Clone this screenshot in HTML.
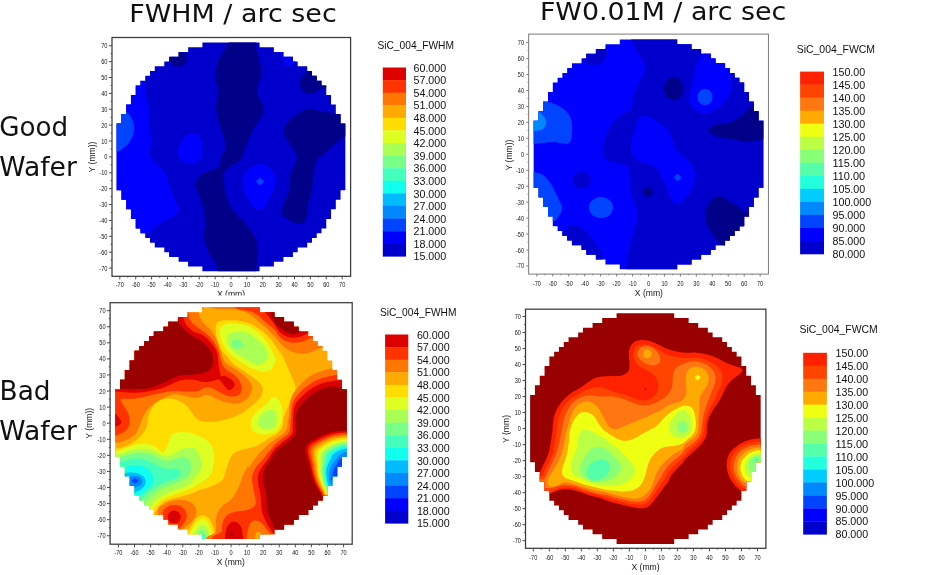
<!DOCTYPE html>
<html><head><meta charset="utf-8"><title>Wafer maps</title>
<style>html,body{margin:0;padding:0;background:#fff}body{width:950px;height:575px;overflow:hidden}</style></head>
<body>
<svg width="950" height="575" viewBox="0 0 950 575" style="display:block">
<rect width="950" height="575" fill="#fff"/>
<defs>
<clipPath id="w1"><path d="M202.42 266.42H259.58V271.29H202.42ZM188.12 261.66H273.88V266.52H188.12ZM178.60 256.89H283.40V261.76H178.60ZM169.07 252.13H292.93V256.99H169.07ZM164.30 247.37H297.70V252.23H164.30ZM154.78 242.60H307.22V247.47H154.78ZM150.01 237.84H311.99V242.70H150.01ZM145.25 233.07H316.75V237.94H145.25ZM140.48 228.31H321.52V233.17H140.48ZM135.72 223.55H326.28V228.41H135.72ZM135.72 218.78H326.28V223.65H135.72ZM130.96 214.02H331.04V218.88H130.96ZM130.96 209.25H331.04V214.12H130.96ZM126.19 204.49H335.81V209.35H126.19ZM126.19 199.73H335.81V204.59H126.19ZM121.43 194.96H340.57V199.83H121.43ZM121.43 190.20H340.57V195.06H121.43ZM116.66 185.43H345.34V190.30H116.66ZM116.66 180.67H345.34V185.53H116.66ZM116.66 175.91H345.34V180.77H116.66ZM116.66 171.14H345.34V176.01H116.66ZM116.66 166.38H345.34V171.24H116.66ZM116.66 161.61H345.34V166.48H116.66ZM116.66 156.85H345.34V161.71H116.66ZM116.66 152.09H345.34V156.95H116.66ZM116.66 147.32H345.34V152.19H116.66ZM116.66 142.56H345.34V147.42H116.66ZM116.66 137.79H345.34V142.66H116.66ZM116.66 133.03H345.34V137.89H116.66ZM116.66 128.27H345.34V133.13H116.66ZM116.66 123.50H345.34V128.37H116.66ZM121.43 118.74H340.57V123.60H121.43ZM121.43 113.97H340.57V118.84H121.43ZM126.19 109.21H335.81V114.07H126.19ZM126.19 104.45H335.81V109.31H126.19ZM130.96 99.68H331.04V104.55H130.96ZM130.96 94.92H331.04V99.78H130.96ZM135.72 90.15H326.28V95.02H135.72ZM135.72 85.39H326.28V90.25H135.72ZM140.48 80.63H321.52V85.49H140.48ZM145.25 75.86H316.75V80.73H145.25ZM150.01 71.10H311.99V75.96H150.01ZM154.78 66.33H307.22V71.20H154.78ZM164.30 61.57H297.70V66.43H164.30ZM169.07 56.81H292.93V61.67H169.07ZM178.60 52.04H283.40V56.91H178.60ZM188.12 47.28H273.88V52.14H188.12ZM202.42 42.51H259.58V47.38H202.42Z"/></clipPath>
<clipPath id="w2"><path d="M619.79 264.31H677.21V269.19H619.79ZM605.43 259.52H691.57V264.41H605.43ZM595.87 254.74H701.13V259.62H595.87ZM586.29 249.95H710.71V254.84H586.29ZM581.51 245.16H715.49V250.05H581.51ZM571.94 240.38H725.06V245.27H571.94ZM567.15 235.59H729.85V240.48H567.15ZM562.37 230.81H734.63V235.70H562.37ZM557.59 226.03H739.41V230.91H557.59ZM552.80 221.24H744.20V226.13H552.80ZM552.80 216.45H744.20V221.34H552.80ZM548.01 211.67H748.99V216.56H548.01ZM548.01 206.88H748.99V211.77H548.01ZM543.23 202.10H753.77V206.99H543.23ZM543.23 197.31H753.77V202.20H543.23ZM538.45 192.53H758.55V197.42H538.45ZM538.45 187.75H758.55V192.63H538.45ZM533.66 182.96H763.34V187.85H533.66ZM533.66 178.18H763.34V183.06H533.66ZM533.66 173.39H763.34V178.28H533.66ZM533.66 168.60H763.34V173.49H533.66ZM533.66 163.82H763.34V168.71H533.66ZM533.66 159.03H763.34V163.92H533.66ZM533.66 154.25H763.34V159.14H533.66ZM533.66 149.47H763.34V154.35H533.66ZM533.66 144.68H763.34V149.57H533.66ZM533.66 139.90H763.34V144.78H533.66ZM533.66 135.11H763.34V140.00H533.66ZM533.66 130.32H763.34V135.21H533.66ZM533.66 125.54H763.34V130.43H533.66ZM533.66 120.76H763.34V125.64H533.66ZM538.45 115.97H758.55V120.86H538.45ZM538.45 111.19H758.55V116.07H538.45ZM543.23 106.40H753.77V111.29H543.23ZM543.23 101.62H753.77V106.50H543.23ZM548.01 96.83H748.99V101.72H548.01ZM548.01 92.05H748.99V96.93H548.01ZM552.80 87.26H744.20V92.15H552.80ZM552.80 82.48H744.20V87.36H552.80ZM557.59 77.69H739.41V82.58H557.59ZM562.37 72.91H734.63V77.79H562.37ZM567.15 68.12H729.85V73.01H567.15ZM571.94 63.34H725.06V68.22H571.94ZM581.51 58.55H715.49V63.44H581.51ZM586.29 53.77H710.71V58.65H586.29ZM595.87 48.98H701.13V53.87H595.87ZM605.43 44.20H691.57V49.08H605.43ZM619.79 39.41H677.21V44.30H619.79Z"/></clipPath>
<clipPath id="w3"><path d="M202.06 534.10H259.94V539.03H202.06ZM187.58 529.28H274.42V534.20H187.58ZM177.94 524.45H284.06V529.38H177.94ZM168.29 519.63H293.71V524.55H168.29ZM163.46 514.81H298.54V519.73H163.46ZM153.82 509.98H308.18V514.91H153.82ZM148.99 505.16H313.01V510.08H148.99ZM144.17 500.33H317.83V505.26H144.17ZM139.34 495.51H322.66V500.43H139.34ZM134.52 490.69H327.48V495.61H134.52ZM134.52 485.86H327.48V490.79H134.52ZM129.70 481.04H332.30V485.96H129.70ZM129.70 476.21H332.30V481.14H129.70ZM124.87 471.39H337.13V476.31H124.87ZM124.87 466.57H337.13V471.49H124.87ZM120.05 461.74H341.95V466.67H120.05ZM120.05 456.92H341.95V461.84H120.05ZM115.22 452.09H346.78V457.02H115.22ZM115.22 447.27H346.78V452.19H115.22ZM115.22 442.45H346.78V447.37H115.22ZM115.22 437.62H346.78V442.55H115.22ZM115.22 432.80H346.78V437.72H115.22ZM115.22 427.97H346.78V432.90H115.22ZM115.22 423.15H346.78V428.07H115.22ZM115.22 418.33H346.78V423.25H115.22ZM115.22 413.50H346.78V418.43H115.22ZM115.22 408.68H346.78V413.60H115.22ZM115.22 403.85H346.78V408.78H115.22ZM115.22 399.03H346.78V403.95H115.22ZM115.22 394.21H346.78V399.13H115.22ZM115.22 389.38H346.78V394.31H115.22ZM120.05 384.56H341.95V389.48H120.05ZM120.05 379.73H341.95V384.66H120.05ZM124.87 374.91H337.13V379.83H124.87ZM124.87 370.09H337.13V375.01H124.87ZM129.70 365.26H332.30V370.19H129.70ZM129.70 360.44H332.30V365.36H129.70ZM134.52 355.61H327.48V360.54H134.52ZM134.52 350.79H327.48V355.71H134.52ZM139.34 345.97H322.66V350.89H139.34ZM144.17 341.14H317.83V346.07H144.17ZM148.99 336.32H313.01V341.24H148.99ZM153.82 331.49H308.18V336.42H153.82ZM163.46 326.67H298.54V331.59H163.46ZM168.29 321.85H293.71V326.77H168.29ZM177.94 317.02H284.06V321.95H177.94ZM187.58 312.20H274.42V317.12H187.58ZM202.06 307.37H259.94V312.30H202.06Z"/></clipPath>
<clipPath id="w4"><path d="M616.58 539.02H674.22V543.92H616.58ZM602.17 534.22H688.63V539.12H602.17ZM592.57 529.41H698.23V534.32H592.57ZM582.96 524.61H707.84V529.51H582.96ZM578.16 519.81H712.64V524.71H578.16ZM568.55 515.00H722.25V519.91H568.55ZM563.75 510.20H727.05V515.10H563.75ZM558.95 505.40H731.85V510.30H558.95ZM554.14 500.60H736.66V505.50H554.14ZM549.34 495.79H741.46V500.70H549.34ZM549.34 490.99H741.46V495.89H549.34ZM544.54 486.19H746.26V491.09H544.54ZM544.54 481.38H746.26V486.29H544.54ZM539.73 476.58H751.07V481.48H539.73ZM539.73 471.78H751.07V476.68H539.73ZM534.93 466.97H755.87V471.88H534.93ZM534.93 462.17H755.87V467.07H534.93ZM530.13 457.37H760.67V462.27H530.13ZM530.13 452.56H760.67V457.47H530.13ZM530.13 447.76H760.67V452.67H530.13ZM530.13 442.96H760.67V447.86H530.13ZM530.13 438.16H760.67V443.06H530.13ZM530.13 433.35H760.67V438.26H530.13ZM530.13 428.55H760.67V433.45H530.13ZM530.13 423.75H760.67V428.65H530.13ZM530.13 418.94H760.67V423.85H530.13ZM530.13 414.14H760.67V419.04H530.13ZM530.13 409.34H760.67V414.24H530.13ZM530.13 404.54H760.67V409.44H530.13ZM530.13 399.73H760.67V404.64H530.13ZM530.13 394.93H760.67V399.83H530.13ZM534.93 390.13H755.87V395.03H534.93ZM534.93 385.32H755.87V390.23H534.93ZM539.73 380.52H751.07V385.42H539.73ZM539.73 375.72H751.07V380.62H539.73ZM544.54 370.91H746.26V375.82H544.54ZM544.54 366.11H746.26V371.01H544.54ZM549.34 361.31H741.46V366.21H549.34ZM549.34 356.50H741.46V361.41H549.34ZM554.14 351.70H736.66V356.61H554.14ZM558.95 346.90H731.85V351.80H558.95ZM563.75 342.10H727.05V347.00H563.75ZM568.55 337.29H722.25V342.20H568.55ZM578.16 332.49H712.64V337.39H578.16ZM582.96 327.69H707.84V332.59H582.96ZM592.57 322.88H698.23V327.79H592.57ZM602.17 318.08H688.63V322.98H602.17ZM616.58 313.28H674.22V318.18H616.58Z"/></clipPath>
</defs>
<g clip-path="url(#w1)">
<rect x="112.0" y="37.5" width="238.6" height="238.8" fill="#0000cc"/>
<path d="M142.0 81.0C146.3 83.7 144.8 91.2 146.0 96.0C147.2 100.8 148.3 105.0 149.0 110.0C149.7 115.0 149.7 120.7 150.0 126.0C150.3 131.3 150.8 136.8 151.0 142.0C151.2 147.2 148.7 151.8 151.0 157.0C153.3 162.2 161.8 168.0 165.0 173.0C168.2 178.0 168.2 182.0 170.0 187.0C171.8 192.0 174.5 199.2 176.0 203.0C177.5 206.8 179.3 207.8 179.0 210.0C178.7 212.2 177.5 213.5 174.0 216.0C170.5 218.5 162.7 222.0 158.0 225.0C153.3 228.0 152.3 231.5 146.0 234.0C139.7 236.5 126.8 252.8 120.0 240.0C113.2 227.2 105.0 183.7 105.0 157.0C105.0 130.3 113.8 92.7 120.0 80.0C126.2 67.3 137.7 78.3 142.0 81.0Z" fill="#0000ff"/>
<path d="M122.0 108.0C125.2 108.7 125.3 110.2 127.0 112.0C128.7 113.8 130.8 116.7 132.0 119.0C133.2 121.3 133.8 123.3 134.0 126.0C134.2 128.7 134.0 132.0 133.0 135.0C132.0 138.0 129.8 141.7 128.0 144.0C126.2 146.3 123.8 147.7 122.0 149.0C120.2 150.3 119.3 151.3 117.0 152.0C114.7 152.7 109.5 160.3 108.0 153.0C106.5 145.7 105.7 115.5 108.0 108.0C110.3 100.5 118.8 107.3 122.0 108.0Z" fill="#0044ff"/>
<path d="M178.0 155.0C177.3 152.0 178.8 147.0 180.0 144.0C181.2 141.0 183.3 138.7 185.0 137.0C186.7 135.3 187.8 134.3 190.0 134.0C192.2 133.7 196.0 133.0 198.0 135.0C200.0 137.0 201.3 142.5 202.0 146.0C202.7 149.5 202.7 153.5 202.0 156.0C201.3 158.5 199.8 159.7 198.0 161.0C196.2 162.3 193.3 163.8 191.0 164.0C188.7 164.2 186.2 163.5 184.0 162.0C181.8 160.5 178.7 158.0 178.0 155.0Z" fill="#0000ff"/>
<path d="M259.0 164.0C254.7 164.7 247.7 169.5 245.0 173.0C242.3 176.5 242.3 180.3 243.0 185.0C243.7 189.7 246.2 196.8 249.0 201.0C251.8 205.2 256.7 210.3 260.0 210.0C263.3 209.7 266.3 203.8 269.0 199.0C271.7 194.2 275.7 186.0 276.0 181.0C276.3 176.0 273.8 171.8 271.0 169.0C268.2 166.2 263.3 163.3 259.0 164.0Z" fill="#0000ff"/>
<path d="M260.0 177.4L264.0 181.4L260.0 185.4L256.0 181.4Z" fill="#0044ff"/>
<path d="M281.0 52.0C279.5 54.0 282.2 57.8 283.0 60.0C283.8 62.2 284.8 64.0 286.0 65.0C287.2 66.0 288.5 66.5 290.0 66.0C291.5 65.5 293.7 63.3 295.0 62.0C296.3 60.7 298.5 60.3 298.0 58.0C297.5 55.7 294.8 49.0 292.0 48.0C289.2 47.0 282.5 50.0 281.0 52.0Z" fill="#0000ff"/>
<path d="M229.0 42.0C227.8 45.0 224.0 50.3 222.0 54.0C220.0 57.7 218.1 60.0 217.0 64.0C215.9 68.0 215.4 73.3 215.6 78.0C215.8 82.7 217.9 87.0 218.0 92.0C218.1 97.0 215.8 103.0 216.0 108.0C216.2 113.0 217.7 117.0 219.0 122.0C220.3 127.0 223.0 133.3 224.0 138.0C225.0 142.7 225.5 146.8 225.0 150.0C224.5 153.2 221.8 154.5 221.0 157.0C220.2 159.5 220.8 163.0 220.0 165.0C219.2 167.0 218.7 167.7 216.0 169.0C213.3 170.3 207.2 171.2 204.0 173.0C200.8 174.8 198.3 177.7 197.0 180.0C195.7 182.3 195.5 184.2 196.0 187.0C196.5 189.8 198.7 193.0 200.0 197.0C201.3 201.0 203.2 206.3 204.0 211.0C204.8 215.7 205.0 220.7 205.0 225.0C205.0 229.3 203.5 232.7 204.0 237.0C204.5 241.3 206.3 247.0 208.0 251.0C209.7 255.0 212.3 257.5 214.0 261.0C215.7 264.5 217.2 268.8 218.0 272.0C218.8 275.2 212.7 278.7 219.0 280.0C225.3 281.3 249.8 281.3 256.0 280.0C262.2 278.7 255.8 275.2 256.0 272.0C256.2 268.8 256.7 264.8 257.0 261.0C257.3 257.2 258.3 253.0 258.0 249.0C257.7 245.0 257.2 241.3 255.0 237.0C252.8 232.7 247.8 226.5 245.0 223.0C242.2 219.5 240.3 218.5 238.0 216.0C235.7 213.5 232.7 210.7 231.0 208.0C229.3 205.3 229.0 202.8 228.0 200.0C227.0 197.2 225.7 195.2 225.0 191.0C224.3 186.8 223.8 178.5 224.0 175.0C224.2 171.5 224.8 171.5 226.0 170.0C227.2 168.5 229.0 167.3 231.0 166.0C233.0 164.7 236.2 163.5 238.0 162.0C239.8 160.5 240.7 159.7 242.0 157.0C243.3 154.3 244.2 150.5 246.0 146.0C247.8 141.5 250.0 136.0 253.0 130.0C256.0 124.0 263.3 116.3 264.0 110.0C264.7 103.7 257.5 97.7 257.0 92.0C256.5 86.3 260.5 81.0 261.0 76.0C261.5 71.0 260.8 66.7 260.0 62.0C259.2 57.3 257.0 52.3 256.0 48.0C255.0 43.7 258.5 38.0 254.0 36.0C249.5 34.0 233.2 35.0 229.0 36.0C224.8 37.0 230.2 39.0 229.0 42.0Z" fill="#000088"/>
<path d="M186.5 58.0C186.5 59.4 186.1 61.0 185.4 62.2C184.7 63.5 183.5 64.7 182.2 65.4C181.0 66.1 179.4 66.5 178.0 66.5C176.6 66.5 175.0 66.1 173.8 65.4C172.5 64.7 171.3 63.5 170.6 62.2C169.9 61.0 169.5 59.4 169.5 58.0C169.5 56.6 169.9 55.0 170.6 53.8C171.3 52.5 172.5 51.3 173.8 50.6C175.0 49.9 176.6 49.5 178.0 49.5C179.4 49.5 181.0 49.9 182.2 50.6C183.5 51.3 184.7 52.5 185.4 53.8C186.1 55.0 186.5 56.6 186.5 58.0Z" fill="#000088"/>
<path d="M307.0 71.0C304.8 72.5 303.2 75.0 302.0 77.0C300.8 79.0 300.2 81.0 300.0 83.0C299.8 85.0 299.7 87.2 301.0 89.0C302.3 90.8 305.5 93.5 308.0 94.0C310.5 94.5 313.5 93.0 316.0 92.0C318.5 91.0 320.7 89.2 323.0 88.0C325.3 86.8 329.7 87.7 330.0 85.0C330.3 82.3 327.5 74.8 325.0 72.0C322.5 69.2 318.0 68.2 315.0 68.0C312.0 67.8 309.2 69.5 307.0 71.0Z" fill="#000088"/>
<path d="M307.0 109.0C302.8 109.8 298.7 113.2 295.0 116.0C291.3 118.8 286.7 122.7 285.0 126.0C283.3 129.3 284.0 132.7 285.0 136.0C286.0 139.3 289.0 142.5 291.0 146.0C293.0 149.5 297.0 152.5 297.0 157.0C297.0 161.5 292.3 167.3 291.0 173.0C289.7 178.7 290.5 185.0 289.0 191.0C287.5 197.0 282.7 204.7 282.0 209.0C281.3 213.3 282.2 214.5 285.0 217.0C287.8 219.5 295.5 223.7 299.0 224.0C302.5 224.3 304.5 222.2 306.0 219.0C307.5 215.8 307.0 210.0 308.0 205.0C309.0 200.0 311.0 194.5 312.0 189.0C313.0 183.5 313.2 176.8 314.0 172.0C314.8 167.2 315.2 163.2 317.0 160.0C318.8 156.8 322.0 155.7 325.0 153.0C328.0 150.3 332.0 146.5 335.0 144.0C338.0 141.5 340.5 140.0 343.0 138.0C345.5 136.0 348.8 136.0 350.0 132.0C351.2 128.0 352.5 117.1 350.0 114.0C347.5 110.9 340.0 114.0 335.0 113.5C330.0 113.0 324.7 111.8 320.0 111.0C315.3 110.2 311.2 108.2 307.0 109.0Z" fill="#000088"/>
</g>
<rect x="112.0" y="37.5" width="238.6" height="238.8" fill="none" stroke="#3a3a3a" stroke-width="1.25"/>
<path d="M119.84 276.3v3.1M112.0 268.06h-3.1M127.78 276.3v1.3M112.0 260.12h-1.3M135.72 276.3v3.1M112.0 252.18h-3.1M143.66 276.3v1.3M112.0 244.24h-1.3M151.60 276.3v3.1M112.0 236.30h-3.1M159.54 276.3v1.3M112.0 228.36h-1.3M167.48 276.3v3.1M112.0 220.42h-3.1M175.42 276.3v1.3M112.0 212.48h-1.3M183.36 276.3v3.1M112.0 204.54h-3.1M191.30 276.3v1.3M112.0 196.60h-1.3M199.24 276.3v3.1M112.0 188.66h-3.1M207.18 276.3v1.3M112.0 180.72h-1.3M215.12 276.3v3.1M112.0 172.78h-3.1M223.06 276.3v1.3M112.0 164.84h-1.3M231.00 276.3v3.1M112.0 156.90h-3.1M238.94 276.3v1.3M112.0 148.96h-1.3M246.88 276.3v3.1M112.0 141.02h-3.1M254.82 276.3v1.3M112.0 133.08h-1.3M262.76 276.3v3.1M112.0 125.14h-3.1M270.70 276.3v1.3M112.0 117.20h-1.3M278.64 276.3v3.1M112.0 109.26h-3.1M286.58 276.3v1.3M112.0 101.32h-1.3M294.52 276.3v3.1M112.0 93.38h-3.1M302.46 276.3v1.3M112.0 85.44h-1.3M310.40 276.3v3.1M112.0 77.50h-3.1M318.34 276.3v1.3M112.0 69.56h-1.3M326.28 276.3v3.1M112.0 61.62h-3.1M334.22 276.3v1.3M112.0 53.68h-1.3M342.16 276.3v3.1M112.0 45.74h-3.1" stroke="#3a3a3a" stroke-width="0.9" fill="none"/>
<g font-family="Liberation Sans, Arial, sans-serif" font-size="7.0" fill="#151515">
<text transform="translate(119.8 286.8) scale(0.8 1)" text-anchor="middle">-70</text>
<text transform="translate(107.4 270.6) scale(0.8 1)" text-anchor="end">-70</text>
<text transform="translate(135.7 286.8) scale(0.8 1)" text-anchor="middle">-60</text>
<text transform="translate(107.4 254.7) scale(0.8 1)" text-anchor="end">-60</text>
<text transform="translate(151.6 286.8) scale(0.8 1)" text-anchor="middle">-50</text>
<text transform="translate(107.4 238.8) scale(0.8 1)" text-anchor="end">-50</text>
<text transform="translate(167.5 286.8) scale(0.8 1)" text-anchor="middle">-40</text>
<text transform="translate(107.4 222.9) scale(0.8 1)" text-anchor="end">-40</text>
<text transform="translate(183.4 286.8) scale(0.8 1)" text-anchor="middle">-30</text>
<text transform="translate(107.4 207.0) scale(0.8 1)" text-anchor="end">-30</text>
<text transform="translate(199.2 286.8) scale(0.8 1)" text-anchor="middle">-20</text>
<text transform="translate(107.4 191.2) scale(0.8 1)" text-anchor="end">-20</text>
<text transform="translate(215.1 286.8) scale(0.8 1)" text-anchor="middle">-10</text>
<text transform="translate(107.4 175.3) scale(0.8 1)" text-anchor="end">-10</text>
<text transform="translate(231.0 286.8) scale(0.8 1)" text-anchor="middle">0</text>
<text transform="translate(107.4 159.4) scale(0.8 1)" text-anchor="end">0</text>
<text transform="translate(246.9 286.8) scale(0.8 1)" text-anchor="middle">10</text>
<text transform="translate(107.4 143.5) scale(0.8 1)" text-anchor="end">10</text>
<text transform="translate(262.8 286.8) scale(0.8 1)" text-anchor="middle">20</text>
<text transform="translate(107.4 127.6) scale(0.8 1)" text-anchor="end">20</text>
<text transform="translate(278.6 286.8) scale(0.8 1)" text-anchor="middle">30</text>
<text transform="translate(107.4 111.8) scale(0.8 1)" text-anchor="end">30</text>
<text transform="translate(294.5 286.8) scale(0.8 1)" text-anchor="middle">40</text>
<text transform="translate(107.4 95.9) scale(0.8 1)" text-anchor="end">40</text>
<text transform="translate(310.4 286.8) scale(0.8 1)" text-anchor="middle">50</text>
<text transform="translate(107.4 80.0) scale(0.8 1)" text-anchor="end">50</text>
<text transform="translate(326.3 286.8) scale(0.8 1)" text-anchor="middle">60</text>
<text transform="translate(107.4 64.1) scale(0.8 1)" text-anchor="end">60</text>
<text transform="translate(342.2 286.8) scale(0.8 1)" text-anchor="middle">70</text>
<text transform="translate(107.4 48.2) scale(0.8 1)" text-anchor="end">70</text>
</g>
<g font-family="Liberation Sans, Arial, sans-serif" font-size="8.6" fill="#151515">
<text x="231" y="297.4" text-anchor="middle">X (mm)</text>
<text transform="translate(94.9 157) rotate(-90)" text-anchor="middle">Y (mm))</text>
</g>
<g clip-path="url(#w2)">
<rect x="528.7" y="34.1" width="239.7" height="240.0" fill="#0000ff"/>
<path d="M631.0 30.0C619.5 32.3 630.0 35.5 631.0 39.0C632.0 42.5 634.7 46.3 637.0 51.0C639.3 55.7 644.7 61.7 645.0 67.0C645.3 72.3 641.0 78.0 639.0 83.0C637.0 88.0 634.3 92.7 633.0 97.0C631.7 101.3 633.0 106.0 631.0 109.0C629.0 112.0 624.3 112.3 621.0 115.0C617.7 117.7 613.7 121.0 611.0 125.0C608.3 129.0 606.3 134.2 605.0 139.0C603.7 143.8 602.7 150.5 603.0 154.0C603.3 157.5 604.7 158.5 607.0 160.0C609.3 161.5 613.7 162.0 617.0 163.0C620.3 164.0 624.8 163.8 627.0 166.0C629.2 168.2 629.3 171.7 630.0 176.0C630.7 180.3 630.2 187.3 631.0 192.0C631.8 196.7 633.8 200.0 635.0 204.0C636.2 208.0 638.3 211.0 638.0 216.0C637.7 221.0 634.5 228.3 633.0 234.0C631.5 239.7 630.2 244.2 629.0 250.0C627.8 255.8 626.5 264.0 626.0 269.0C625.5 274.0 613.7 277.3 626.0 280.0C638.3 282.7 675.2 285.0 700.0 285.0C724.8 285.0 762.5 322.5 775.0 280.0C787.5 237.5 787.5 72.5 775.0 30.0C762.5 -12.5 724.0 25.0 700.0 25.0C676.0 25.0 642.5 27.7 631.0 30.0Z" fill="#0000cc"/>
<path d="M648.0 116.5C644.8 115.8 641.2 115.9 639.0 118.0C636.8 120.1 636.2 125.3 635.0 129.0C633.8 132.7 632.7 136.5 632.0 140.0C631.3 143.5 630.8 147.3 631.0 150.0C631.2 152.7 631.8 154.2 633.0 156.0C634.2 157.8 635.5 159.2 638.0 160.5C640.5 161.8 645.0 162.8 648.0 164.0C651.0 165.2 653.7 165.7 656.0 168.0C658.3 170.3 660.0 174.0 662.0 178.0C664.0 182.0 666.2 188.0 668.0 192.0C669.8 196.0 671.0 200.2 673.0 202.0C675.0 203.8 677.2 204.7 680.0 203.0C682.8 201.3 687.5 196.2 690.0 192.0C692.5 187.8 694.5 182.3 695.0 178.0C695.5 173.7 694.8 169.5 693.0 166.0C691.2 162.5 686.5 159.3 684.0 157.0C681.5 154.7 679.8 154.7 678.0 152.0C676.2 149.3 674.7 144.7 673.0 141.0C671.3 137.3 670.5 133.2 668.0 130.0C665.5 126.8 661.3 124.2 658.0 122.0C654.7 119.8 651.2 117.2 648.0 116.5Z" fill="#0000ff"/>
<path d="M677.6 173.4L681.6 177.4L677.6 181.4L673.6 177.4Z" fill="#0044ff"/>
<path d="M702.0 55.0C698.8 58.7 697.7 62.0 696.0 67.0C694.3 72.0 693.2 79.7 692.0 85.0C690.8 90.3 688.8 95.2 689.0 99.0C689.2 102.8 690.5 105.5 693.0 108.0C695.5 110.5 700.2 113.8 704.0 114.0C707.8 114.2 712.0 111.8 716.0 109.0C720.0 106.2 725.3 101.0 728.0 97.0C730.7 93.0 731.5 89.0 732.0 85.0C732.5 81.0 731.7 76.8 731.0 73.0C730.3 69.2 727.3 65.0 728.0 62.0C728.7 59.0 737.2 57.8 735.0 55.0C732.8 52.2 720.5 45.0 715.0 45.0C709.5 45.0 705.2 51.3 702.0 55.0Z" fill="#0000ff"/>
<path d="M712.5 97.0C712.5 98.3 712.1 99.8 711.5 101.0C710.9 102.2 709.8 103.3 708.8 103.9C707.7 104.6 706.2 105.0 705.0 105.0C703.8 105.0 702.3 104.6 701.2 103.9C700.2 103.3 699.1 102.2 698.5 101.0C697.9 99.8 697.5 98.3 697.5 97.0C697.5 95.7 697.9 94.2 698.5 93.0C699.1 91.8 700.2 90.7 701.2 90.1C702.3 89.4 703.8 89.0 705.0 89.0C706.2 89.0 707.7 89.4 708.8 90.1C709.8 90.7 710.9 91.8 711.5 93.0C712.1 94.2 712.5 95.7 712.5 97.0Z" fill="#0044ff"/>
<path d="M683.0 88.6C683.0 90.5 682.5 92.7 681.7 94.4C681.0 96.1 679.7 97.7 678.3 98.6C676.9 99.6 675.2 100.2 673.6 100.2C672.0 100.2 670.3 99.6 668.9 98.6C667.5 97.7 666.2 96.1 665.5 94.4C664.7 92.7 664.2 90.5 664.2 88.6C664.2 86.7 664.7 84.5 665.5 82.8C666.2 81.1 667.5 79.5 668.9 78.6C670.3 77.6 672.0 77.0 673.6 77.0C675.2 77.0 676.9 77.6 678.3 78.6C679.7 79.5 681.0 81.1 681.7 82.8C682.5 84.5 683.0 86.7 683.0 88.6Z" fill="#000088"/>
<path d="M709.0 130.0C709.8 128.8 710.8 126.2 714.0 125.0C717.2 123.8 723.7 124.3 728.0 123.0C732.3 121.7 735.8 120.0 740.0 117.0C744.2 114.0 748.0 107.8 753.0 105.0C758.0 102.2 767.2 94.3 770.0 100.0C772.8 105.7 771.2 132.5 770.0 139.0C768.8 145.5 767.0 138.5 763.0 139.0C759.0 139.5 751.2 142.0 746.0 142.0C740.8 142.0 736.7 139.8 732.0 139.0C727.3 138.2 721.8 138.2 718.0 137.0C714.2 135.8 710.5 133.2 709.0 132.0C707.5 130.8 708.2 131.2 709.0 130.0Z" fill="#000088"/>
<path d="M719.0 196.0C715.3 195.8 712.2 199.3 710.0 202.0C707.8 204.7 706.1 208.3 705.6 212.0C705.1 215.7 705.6 220.0 707.0 224.0C708.4 228.0 711.7 232.5 714.0 236.0C716.3 239.5 718.3 242.7 721.0 245.0C723.7 247.3 723.5 253.3 730.0 250.0C736.5 246.7 756.8 231.0 760.0 225.0C763.2 219.0 751.7 216.3 749.0 214.0C746.3 211.7 746.8 212.8 744.0 211.0C741.2 209.2 736.2 205.5 732.0 203.0C727.8 200.5 722.7 196.2 719.0 196.0Z" fill="#000088"/>
<path d="M648.0 186.0L654.0 192.0L648.0 198.0L642.0 192.0Z" fill="#000088"/>
<path d="M580.0 55.0C579.5 56.7 581.0 56.7 582.0 58.0C583.0 59.3 584.5 61.8 586.0 63.0C587.5 64.2 589.2 64.8 591.0 65.0C592.8 65.2 595.3 64.8 597.0 64.5C598.7 64.2 599.7 63.9 601.0 63.0C602.3 62.1 604.0 60.3 605.0 59.0C606.0 57.7 606.8 56.7 607.0 55.0C607.2 53.3 607.2 51.2 606.0 49.0C604.8 46.8 603.5 42.2 600.0 42.0C596.5 41.8 588.3 45.8 585.0 48.0C581.7 50.2 580.5 53.3 580.0 55.0Z" fill="#0000cc"/>
<path d="M590.6 180.0C590.6 181.4 590.1 183.0 589.4 184.2C588.6 185.4 587.4 186.6 586.1 187.3C584.8 188.0 583.1 188.4 581.6 188.4C580.1 188.4 578.4 188.0 577.1 187.3C575.8 186.6 574.6 185.4 573.8 184.2C573.1 183.0 572.6 181.4 572.6 180.0C572.6 178.6 573.1 177.0 573.8 175.8C574.6 174.6 575.8 173.4 577.1 172.7C578.4 172.0 580.1 171.6 581.6 171.6C583.1 171.6 584.8 172.0 586.1 172.7C587.4 173.4 588.6 174.6 589.4 175.8C590.1 177.0 590.6 178.6 590.6 180.0Z" fill="#0000cc"/>
<path d="M565.0 230.0C567.2 228.3 570.0 225.2 573.0 225.0C576.0 224.8 579.7 226.5 583.0 229.0C586.3 231.5 590.0 236.2 593.0 240.0C596.0 243.8 599.5 248.7 601.0 252.0C602.5 255.3 602.2 257.0 602.0 260.0C601.8 263.0 604.5 271.7 600.0 270.0C595.5 268.3 581.7 255.8 575.0 250.0C568.3 244.2 561.7 238.3 560.0 235.0C558.3 231.7 562.8 231.7 565.0 230.0Z" fill="#0000cc"/>
<path d="M544.0 101.0C549.7 102.0 554.8 103.7 559.0 106.0C563.2 108.3 566.8 111.5 569.0 115.0C571.2 118.5 572.0 122.3 572.0 127.0C572.0 131.7 572.2 140.5 569.0 143.0C565.8 145.5 558.8 141.8 553.0 142.0C547.2 142.2 538.7 143.7 534.0 144.0C529.3 144.3 526.5 151.3 525.0 144.0C523.5 136.7 521.8 107.2 525.0 100.0C528.2 92.8 538.3 100.0 544.0 101.0Z" fill="#0044ff"/>
<path d="M539.0 112.0C542.0 113.5 545.3 118.2 546.0 121.0C546.7 123.8 545.0 127.3 543.0 129.0C541.0 130.7 536.5 130.7 534.0 131.0C531.5 131.3 529.0 134.2 528.0 131.0C527.0 127.8 526.2 115.2 528.0 112.0C529.8 108.8 536.0 110.5 539.0 112.0Z" fill="#0088ff"/>
<path d="M534.0 172.0C536.5 172.5 540.2 173.0 543.0 175.0C545.8 177.0 548.7 180.5 551.0 184.0C553.3 187.5 555.2 192.2 557.0 196.0C558.8 199.8 561.7 203.7 562.0 207.0C562.3 210.3 560.5 213.7 559.0 216.0C557.5 218.3 556.2 221.2 553.0 221.0C549.8 220.8 544.2 220.2 540.0 215.0C535.8 209.8 530.0 197.2 528.0 190.0C526.0 182.8 527.0 175.0 528.0 172.0C529.0 169.0 531.5 171.5 534.0 172.0Z" fill="#0044ff"/>
<path d="M613.0 207.6C613.0 209.4 612.4 211.4 611.4 212.9C610.4 214.4 608.7 215.9 607.0 216.8C605.3 217.7 603.0 218.2 601.0 218.2C599.0 218.2 596.7 217.7 595.0 216.8C593.3 215.9 591.6 214.4 590.6 212.9C589.6 211.4 589.0 209.4 589.0 207.6C589.0 205.8 589.6 203.8 590.6 202.3C591.6 200.8 593.3 199.3 595.0 198.4C596.7 197.5 599.0 197.0 601.0 197.0C603.0 197.0 605.3 197.5 607.0 198.4C608.7 199.3 610.4 200.8 611.4 202.3C612.4 203.8 613.0 205.8 613.0 207.6Z" fill="#0044ff"/>
</g>
<rect x="528.7" y="34.1" width="239.7" height="240.0" fill="none" stroke="#6a6a6a" stroke-width="0.9"/>
<path d="M536.85 274.1v2.4M528.7 265.95h-2.4M544.83 274.1v1.1M528.7 257.98h-1.1M552.80 274.1v2.4M528.7 250.00h-2.4M560.77 274.1v1.1M528.7 242.03h-1.1M568.75 274.1v2.4M528.7 234.05h-2.4M576.73 274.1v1.1M528.7 226.08h-1.1M584.70 274.1v2.4M528.7 218.10h-2.4M592.67 274.1v1.1M528.7 210.12h-1.1M600.65 274.1v2.4M528.7 202.15h-2.4M608.62 274.1v1.1M528.7 194.18h-1.1M616.60 274.1v2.4M528.7 186.20h-2.4M624.58 274.1v1.1M528.7 178.23h-1.1M632.55 274.1v2.4M528.7 170.25h-2.4M640.52 274.1v1.1M528.7 162.28h-1.1M648.50 274.1v2.4M528.7 154.30h-2.4M656.48 274.1v1.1M528.7 146.33h-1.1M664.45 274.1v2.4M528.7 138.35h-2.4M672.42 274.1v1.1M528.7 130.38h-1.1M680.40 274.1v2.4M528.7 122.40h-2.4M688.38 274.1v1.1M528.7 114.43h-1.1M696.35 274.1v2.4M528.7 106.45h-2.4M704.33 274.1v1.1M528.7 98.48h-1.1M712.30 274.1v2.4M528.7 90.50h-2.4M720.27 274.1v1.1M528.7 82.53h-1.1M728.25 274.1v2.4M528.7 74.55h-2.4M736.23 274.1v1.1M528.7 66.58h-1.1M744.20 274.1v2.4M528.7 58.60h-2.4M752.17 274.1v1.1M528.7 50.63h-1.1M760.15 274.1v2.4M528.7 42.65h-2.4" stroke="#6a6a6a" stroke-width="0.9" fill="none"/>
<g font-family="Liberation Sans, Arial, sans-serif" font-size="7.0" fill="#151515">
<text transform="translate(536.9 285.5) scale(0.8 1)" text-anchor="middle">-70</text>
<text transform="translate(524.1 268.4) scale(0.8 1)" text-anchor="end">-70</text>
<text transform="translate(552.8 285.5) scale(0.8 1)" text-anchor="middle">-60</text>
<text transform="translate(524.1 252.5) scale(0.8 1)" text-anchor="end">-60</text>
<text transform="translate(568.8 285.5) scale(0.8 1)" text-anchor="middle">-50</text>
<text transform="translate(524.1 236.6) scale(0.8 1)" text-anchor="end">-50</text>
<text transform="translate(584.7 285.5) scale(0.8 1)" text-anchor="middle">-40</text>
<text transform="translate(524.1 220.6) scale(0.8 1)" text-anchor="end">-40</text>
<text transform="translate(600.6 285.5) scale(0.8 1)" text-anchor="middle">-30</text>
<text transform="translate(524.1 204.7) scale(0.8 1)" text-anchor="end">-30</text>
<text transform="translate(616.6 285.5) scale(0.8 1)" text-anchor="middle">-20</text>
<text transform="translate(524.1 188.7) scale(0.8 1)" text-anchor="end">-20</text>
<text transform="translate(632.5 285.5) scale(0.8 1)" text-anchor="middle">-10</text>
<text transform="translate(524.1 172.8) scale(0.8 1)" text-anchor="end">-10</text>
<text transform="translate(648.5 285.5) scale(0.8 1)" text-anchor="middle">0</text>
<text transform="translate(524.1 156.8) scale(0.8 1)" text-anchor="end">0</text>
<text transform="translate(664.5 285.5) scale(0.8 1)" text-anchor="middle">10</text>
<text transform="translate(524.1 140.9) scale(0.8 1)" text-anchor="end">10</text>
<text transform="translate(680.4 285.5) scale(0.8 1)" text-anchor="middle">20</text>
<text transform="translate(524.1 124.9) scale(0.8 1)" text-anchor="end">20</text>
<text transform="translate(696.4 285.5) scale(0.8 1)" text-anchor="middle">30</text>
<text transform="translate(524.1 109.0) scale(0.8 1)" text-anchor="end">30</text>
<text transform="translate(712.3 285.5) scale(0.8 1)" text-anchor="middle">40</text>
<text transform="translate(524.1 93.0) scale(0.8 1)" text-anchor="end">40</text>
<text transform="translate(728.2 285.5) scale(0.8 1)" text-anchor="middle">50</text>
<text transform="translate(524.1 77.1) scale(0.8 1)" text-anchor="end">50</text>
<text transform="translate(744.2 285.5) scale(0.8 1)" text-anchor="middle">60</text>
<text transform="translate(524.1 61.1) scale(0.8 1)" text-anchor="end">60</text>
<text transform="translate(760.1 285.5) scale(0.8 1)" text-anchor="middle">70</text>
<text transform="translate(524.1 45.2) scale(0.8 1)" text-anchor="end">70</text>
</g>
<g font-family="Liberation Sans, Arial, sans-serif" font-size="8.6" fill="#151515">
<text x="648.9" y="296.1" text-anchor="middle">X (mm)</text>
<text transform="translate(511.5 155) rotate(-90)" text-anchor="middle">Y (mm))</text>
</g>
<rect x="382.8" y="67.50" width="23.2" height="12.89" fill="#dd0000"/>
<rect x="382.8" y="80.09" width="23.2" height="12.89" fill="#ff3300"/>
<rect x="382.8" y="92.67" width="23.2" height="12.89" fill="#ff7700"/>
<rect x="382.8" y="105.26" width="23.2" height="12.89" fill="#ffaa00"/>
<rect x="382.8" y="117.85" width="23.2" height="12.89" fill="#ffdd00"/>
<rect x="382.8" y="130.43" width="23.2" height="12.89" fill="#ddff22"/>
<rect x="382.8" y="143.02" width="23.2" height="12.89" fill="#aaff55"/>
<rect x="382.8" y="155.61" width="23.2" height="12.89" fill="#77ff88"/>
<rect x="382.8" y="168.19" width="23.2" height="12.89" fill="#44ffbb"/>
<rect x="382.8" y="180.78" width="23.2" height="12.89" fill="#11ffee"/>
<rect x="382.8" y="193.37" width="23.2" height="12.89" fill="#00bbff"/>
<rect x="382.8" y="205.95" width="23.2" height="12.89" fill="#0088ff"/>
<rect x="382.8" y="218.54" width="23.2" height="12.89" fill="#0044ff"/>
<rect x="382.8" y="231.13" width="23.2" height="12.89" fill="#0000ff"/>
<rect x="382.8" y="243.71" width="23.2" height="12.89" fill="#0000cc"/>
<g font-family="Liberation Sans, Arial, sans-serif" fill="#111">
<text x="377.4" y="48.8" font-size="10.6" textLength="76.6" lengthAdjust="spacingAndGlyphs">SiC_004_FWHM</text>
<text x="413.5" y="71.6" font-size="11.4" textLength="32.7" lengthAdjust="spacingAndGlyphs">60.000</text>
<text x="413.5" y="84.2" font-size="11.4" textLength="32.7" lengthAdjust="spacingAndGlyphs">57.000</text>
<text x="413.5" y="96.8" font-size="11.4" textLength="32.7" lengthAdjust="spacingAndGlyphs">54.000</text>
<text x="413.5" y="109.4" font-size="11.4" textLength="32.7" lengthAdjust="spacingAndGlyphs">51.000</text>
<text x="413.5" y="122.0" font-size="11.4" textLength="32.7" lengthAdjust="spacingAndGlyphs">48.000</text>
<text x="413.5" y="134.5" font-size="11.4" textLength="32.7" lengthAdjust="spacingAndGlyphs">45.000</text>
<text x="413.5" y="147.1" font-size="11.4" textLength="32.7" lengthAdjust="spacingAndGlyphs">42.000</text>
<text x="413.5" y="159.7" font-size="11.4" textLength="32.7" lengthAdjust="spacingAndGlyphs">39.000</text>
<text x="413.5" y="172.3" font-size="11.4" textLength="32.7" lengthAdjust="spacingAndGlyphs">36.000</text>
<text x="413.5" y="184.9" font-size="11.4" textLength="32.7" lengthAdjust="spacingAndGlyphs">33.000</text>
<text x="413.5" y="197.5" font-size="11.4" textLength="32.7" lengthAdjust="spacingAndGlyphs">30.000</text>
<text x="413.5" y="210.1" font-size="11.4" textLength="32.7" lengthAdjust="spacingAndGlyphs">27.000</text>
<text x="413.5" y="222.6" font-size="11.4" textLength="32.7" lengthAdjust="spacingAndGlyphs">24.000</text>
<text x="413.5" y="235.2" font-size="11.4" textLength="32.7" lengthAdjust="spacingAndGlyphs">21.000</text>
<text x="413.5" y="247.8" font-size="11.4" textLength="32.7" lengthAdjust="spacingAndGlyphs">18.000</text>
<text x="413.5" y="260.4" font-size="11.4" textLength="32.7" lengthAdjust="spacingAndGlyphs">15.000</text>
</g>
<rect x="800.1" y="71.60" width="23.9" height="13.33" fill="#ff2200"/>
<rect x="800.1" y="84.63" width="23.9" height="13.33" fill="#ff4400"/>
<rect x="800.1" y="97.66" width="23.9" height="13.33" fill="#ff7711"/>
<rect x="800.1" y="110.69" width="23.9" height="13.33" fill="#ffaa00"/>
<rect x="800.1" y="123.71" width="23.9" height="13.33" fill="#eeff11"/>
<rect x="800.1" y="136.74" width="23.9" height="13.33" fill="#bbff44"/>
<rect x="800.1" y="149.77" width="23.9" height="13.33" fill="#88ff77"/>
<rect x="800.1" y="162.80" width="23.9" height="13.33" fill="#55ffaa"/>
<rect x="800.1" y="175.83" width="23.9" height="13.33" fill="#22ffdd"/>
<rect x="800.1" y="188.86" width="23.9" height="13.33" fill="#00ccff"/>
<rect x="800.1" y="201.89" width="23.9" height="13.33" fill="#0088ff"/>
<rect x="800.1" y="214.91" width="23.9" height="13.33" fill="#0044ff"/>
<rect x="800.1" y="227.94" width="23.9" height="13.33" fill="#0000ff"/>
<rect x="800.1" y="240.97" width="23.9" height="13.33" fill="#0000cc"/>
<g font-family="Liberation Sans, Arial, sans-serif" fill="#111">
<text x="796.7" y="52.5" font-size="10.6" textLength="78.4" lengthAdjust="spacingAndGlyphs">SiC_004_FWCM</text>
<text x="832.5" y="75.7" font-size="11.4" textLength="32.7" lengthAdjust="spacingAndGlyphs">150.00</text>
<text x="832.5" y="88.7" font-size="11.4" textLength="32.7" lengthAdjust="spacingAndGlyphs">145.00</text>
<text x="832.5" y="101.8" font-size="11.4" textLength="32.7" lengthAdjust="spacingAndGlyphs">140.00</text>
<text x="832.5" y="114.8" font-size="11.4" textLength="32.7" lengthAdjust="spacingAndGlyphs">135.00</text>
<text x="832.5" y="127.8" font-size="11.4" textLength="32.7" lengthAdjust="spacingAndGlyphs">130.00</text>
<text x="832.5" y="140.8" font-size="11.4" textLength="32.7" lengthAdjust="spacingAndGlyphs">125.00</text>
<text x="832.5" y="153.9" font-size="11.4" textLength="32.7" lengthAdjust="spacingAndGlyphs">120.00</text>
<text x="832.5" y="166.9" font-size="11.4" textLength="32.7" lengthAdjust="spacingAndGlyphs">115.00</text>
<text x="832.5" y="179.9" font-size="11.4" textLength="32.7" lengthAdjust="spacingAndGlyphs">110.00</text>
<text x="832.5" y="193.0" font-size="11.4" textLength="32.7" lengthAdjust="spacingAndGlyphs">105.00</text>
<text x="832.5" y="206.0" font-size="11.4" textLength="38.7" lengthAdjust="spacingAndGlyphs">100.000</text>
<text x="832.5" y="219.0" font-size="11.4" textLength="32.7" lengthAdjust="spacingAndGlyphs">95.000</text>
<text x="832.5" y="232.0" font-size="11.4" textLength="32.7" lengthAdjust="spacingAndGlyphs">90.000</text>
<text x="832.5" y="245.1" font-size="11.4" textLength="32.7" lengthAdjust="spacingAndGlyphs">85.000</text>
<text x="832.5" y="258.1" font-size="11.4" textLength="32.7" lengthAdjust="spacingAndGlyphs">80.000</text>
</g>
<rect x="0" y="295.5" width="480" height="280" fill="#fff"/>
<rect x="480" y="299" width="470" height="276" fill="#fff"/>
<g clip-path="url(#w3)">
<rect x="110.1" y="302.7" width="242.1" height="241.5" fill="#ffaa00"/>
<path d="M217.3 322.3C218.5 321.1 220.5 321.0 222.8 320.6C225.1 320.2 228.2 320.1 231.2 320.2C234.2 320.2 237.7 320.3 240.9 320.9C244.2 321.5 247.9 322.5 250.7 323.7C253.5 324.9 255.3 326.3 257.6 327.9C259.9 329.4 262.2 331.0 264.5 333.0C266.8 335.0 269.3 337.5 271.3 340.0C273.3 342.5 274.8 345.3 276.7 348.0C278.6 350.7 281.1 353.4 282.7 356.0C284.2 358.6 284.9 361.1 286.0 363.5C287.1 365.9 288.0 368.2 289.0 370.5C290.0 372.8 291.1 375.4 292.0 377.5C292.9 379.6 293.7 381.2 294.3 383.0C294.9 384.8 295.5 386.3 295.5 388.0C295.5 389.7 295.2 391.2 294.5 393.3C293.8 395.4 292.3 398.2 291.0 400.9C289.7 403.6 288.0 406.6 286.8 409.3C285.6 412.0 284.7 414.3 284.0 416.9C283.3 419.4 283.3 422.4 282.7 424.6C282.1 426.8 281.5 428.6 280.6 430.1C279.7 431.6 278.0 432.8 277.1 433.6C276.2 434.4 276.4 434.2 275.0 435.0C273.6 435.8 270.7 437.3 268.7 438.5C266.7 439.7 265.0 440.9 263.2 442.0C261.4 443.1 259.5 444.5 257.6 445.4C255.7 446.3 254.1 446.9 252.0 447.5C249.9 448.1 247.4 448.3 245.1 448.9C242.8 449.5 240.2 450.1 238.1 451.0C236.0 451.9 234.1 452.9 232.6 454.5C231.1 456.1 230.0 458.6 229.1 460.7C228.2 462.8 227.7 464.8 227.0 467.0C226.3 469.2 225.6 471.9 224.9 474.0C224.2 476.1 224.1 477.9 222.8 479.5C221.5 481.1 219.7 482.2 217.3 483.5C215.0 484.8 211.3 486.2 208.7 487.2C206.1 488.2 204.1 488.5 201.8 489.3C199.5 490.1 197.1 491.1 194.8 492.0C192.5 492.9 190.5 494.0 187.9 494.8C185.3 495.6 182.3 496.2 179.5 496.9C176.7 497.6 173.8 498.2 171.2 499.0C168.6 499.8 166.3 500.5 164.2 501.8C162.1 503.1 160.2 505.0 158.7 506.7C157.2 508.4 156.8 510.1 155.0 512.0C153.2 513.9 153.0 520.8 148.0 518.0C143.0 515.2 131.7 503.8 125.0 495.0C118.3 486.2 110.8 472.5 108.0 465.0C105.2 457.5 106.8 452.7 108.0 450.0C109.2 447.3 112.7 449.3 115.0 448.9C117.3 448.5 119.5 448.3 122.0 447.5C124.5 446.7 127.8 445.4 130.3 444.0C132.9 442.6 135.2 440.9 137.3 439.2C139.4 437.5 141.3 435.6 142.8 433.6C144.3 431.6 145.5 429.5 146.3 427.3C147.1 425.1 147.2 422.6 147.7 420.4C148.2 418.2 148.4 416.2 149.1 414.1C149.8 412.0 150.8 409.8 151.9 407.9C153.1 406.0 154.4 404.4 156.0 403.0C157.6 401.6 159.6 400.3 161.6 399.5C163.6 398.7 165.7 398.4 167.9 398.4C170.1 398.4 172.5 398.9 174.8 399.5C177.1 400.1 179.7 401.1 181.8 402.3C183.9 403.5 185.7 404.9 187.3 406.5C188.9 408.1 190.2 410.2 191.5 412.0C192.8 413.8 193.5 415.5 195.0 417.0C196.5 418.5 198.3 420.1 200.6 420.9C202.9 421.7 206.1 421.7 208.9 421.8C211.7 421.9 214.5 421.8 217.3 421.4C220.1 421.0 222.8 420.3 225.6 419.5C228.4 418.7 231.2 417.9 234.0 416.8C236.8 415.7 239.5 414.5 242.3 412.8C245.1 411.1 248.1 408.6 250.7 406.5C253.2 404.4 255.8 402.2 257.6 400.3C259.5 398.4 261.0 396.9 261.8 394.8C262.6 392.7 263.0 389.9 262.5 387.8C262.0 385.7 260.8 384.2 259.0 382.3C257.2 380.4 254.6 378.6 252.0 376.7C249.4 374.8 246.5 373.0 243.7 371.1C240.9 369.2 237.6 367.5 235.3 365.6C233.0 363.8 231.5 361.9 229.8 360.0C228.1 358.1 226.4 356.2 224.9 354.3C223.4 352.4 221.8 350.8 220.7 348.7C219.5 346.6 218.8 344.1 218.0 341.8C217.2 339.5 216.5 337.1 216.1 334.8C215.7 332.5 215.4 330.0 215.6 327.9C215.8 325.8 216.1 323.5 217.3 322.3Z" fill="#ffdd00"/>
<path d="M183.0 536.0C182.6 533.3 186.4 533.3 187.7 531.7C189.0 530.1 189.7 528.4 190.9 526.5C192.1 524.6 193.5 521.9 195.0 520.2C196.5 518.5 198.1 516.9 199.7 516.1C201.3 515.3 202.8 515.2 204.4 515.6C206.0 516.0 207.8 517.2 209.1 518.7C210.4 520.2 211.3 522.2 212.2 524.4C213.1 526.6 213.8 529.3 214.3 531.7C214.8 534.1 215.1 536.8 215.4 539.0C215.7 541.2 220.2 543.5 216.0 545.0C211.8 546.5 195.5 549.5 190.0 548.0C184.5 546.5 183.4 538.7 183.0 536.0Z" fill="#ffdd00"/>
<path d="M187.0 537.0C186.7 534.5 189.3 534.3 190.3 532.8C191.3 531.3 191.9 529.8 192.9 528.1C193.9 526.5 195.3 524.3 196.6 522.9C197.9 521.5 199.4 520.2 200.8 519.7C202.2 519.2 203.7 519.2 204.9 519.7C206.1 520.2 207.1 521.4 208.1 522.9C209.1 524.4 210.0 526.6 210.7 528.6C211.4 530.6 211.8 533.1 212.2 534.8C212.5 536.5 212.7 537.3 212.8 539.0C212.9 540.7 216.5 543.5 213.0 545.0C209.5 546.5 196.3 549.3 192.0 548.0C187.7 546.7 187.3 539.5 187.0 537.0Z" fill="#ddff22"/>
<path d="M191.0 538.0C190.9 535.6 192.7 535.1 193.5 533.8C194.3 532.5 195.2 531.4 196.1 530.2C197.0 529.0 198.1 527.4 199.2 526.5C200.3 525.6 201.8 524.8 202.9 524.9C204.0 525.0 205.1 525.9 206.0 527.0C206.9 528.1 207.6 530.1 208.1 531.7C208.6 533.4 208.9 534.7 209.1 536.9C209.3 539.1 211.9 543.1 209.4 545.0C206.9 546.9 197.1 549.2 194.0 548.0C190.9 546.8 191.1 540.4 191.0 538.0Z" fill="#aaff55"/>
<path d="M195.0 538.0C195.2 535.7 196.3 535.4 197.1 534.3C197.9 533.2 198.7 531.9 199.7 531.2C200.7 530.5 201.9 529.9 202.9 530.2C203.9 530.5 204.9 531.7 205.5 532.8C206.1 533.9 206.3 534.9 206.5 536.9C206.7 538.9 208.2 543.1 206.5 545.0C204.8 546.9 197.9 549.2 196.0 548.0C194.1 546.8 194.8 540.3 195.0 538.0Z" fill="#77ff88"/>
<path d="M200.5 538.0C200.6 535.8 201.3 535.5 201.8 534.8C202.3 534.1 202.9 533.5 203.4 533.8C203.9 534.1 204.7 534.5 205.0 536.4C205.3 538.3 205.7 543.1 205.0 545.0C204.3 546.9 201.8 549.2 201.0 548.0C200.2 546.8 200.4 540.2 200.5 538.0Z" fill="#44ffbb"/>
<path d="M220.7 327.9C219.9 329.6 219.8 332.5 220.0 334.8C220.2 337.1 221.2 339.5 222.1 341.8C223.0 344.1 224.1 346.5 225.6 348.7C227.1 350.9 229.1 353.0 231.2 355.0C233.3 357.0 235.5 358.9 238.1 360.6C240.7 362.3 243.7 363.9 246.5 365.4C249.3 366.9 252.0 368.6 254.8 369.6C257.6 370.7 260.6 371.6 263.2 371.7C265.8 371.8 268.4 371.4 270.1 370.3C271.8 369.2 272.7 367.1 273.6 365.4C274.5 363.7 275.6 362.1 275.5 360.0C275.4 357.9 274.0 355.3 272.9 352.9C271.8 350.4 270.2 347.7 268.7 345.3C267.2 342.9 265.8 340.5 263.9 338.3C262.0 336.1 259.8 333.9 257.6 332.0C255.4 330.1 253.2 328.5 250.7 327.2C248.1 325.9 245.3 325.0 242.3 324.4C239.3 323.8 235.5 323.4 232.6 323.4C229.7 323.4 226.9 323.6 224.9 324.4C222.9 325.1 221.5 326.2 220.7 327.9Z" fill="#ddff22"/>
<path d="M227.0 336.9C226.8 338.4 227.0 341.2 227.7 343.2C228.4 345.2 229.7 347.0 231.2 348.7C232.7 350.4 234.6 352.1 236.7 353.6C238.8 355.1 241.4 356.4 243.7 357.8C246.0 359.2 248.4 360.9 250.7 362.0C253.0 363.1 255.4 364.6 257.6 364.7C259.8 364.8 262.3 363.8 263.9 362.7C265.5 361.6 266.6 359.7 267.1 357.8C267.6 355.9 267.4 353.6 266.7 351.5C266.0 349.4 264.7 347.3 263.2 345.3C261.7 343.3 259.7 341.4 257.6 339.7C255.5 337.9 253.2 336.1 250.7 334.8C248.1 333.5 245.1 332.3 242.3 331.8C239.5 331.3 236.2 331.6 234.0 332.0C231.8 332.4 230.3 333.3 229.1 334.1C227.9 334.9 227.2 335.4 227.0 336.9Z" fill="#aaff55"/>
<path d="M231.5 342.5C231.8 341.3 233.4 340.2 234.7 339.7C236.0 339.2 238.1 339.0 239.5 339.7C240.9 340.4 242.7 342.6 243.0 343.9C243.3 345.2 242.8 346.5 241.6 347.3C240.4 348.1 237.5 348.6 236.0 348.5C234.5 348.4 233.3 347.7 232.6 346.7C231.8 345.7 231.2 343.7 231.5 342.5Z" fill="#77ff88"/>
<path d="M272.0 397.5C270.6 398.4 269.5 400.9 267.3 403.0C265.1 405.1 261.4 407.8 259.0 410.1C256.6 412.4 254.1 414.7 252.7 417.0C251.3 419.3 250.7 421.8 250.7 424.0C250.7 426.2 251.3 428.7 252.7 430.3C254.1 431.9 256.6 433.0 259.0 433.7C261.4 434.4 264.6 434.6 267.3 434.4C270.0 434.2 273.4 433.0 275.0 432.3C276.6 431.6 276.2 431.4 277.1 430.1C278.0 428.8 279.8 426.9 280.6 424.6C281.5 422.3 282.0 419.0 282.2 416.2C282.4 413.4 282.5 410.4 282.0 407.9C281.5 405.3 280.2 402.6 279.2 400.9C278.2 399.2 277.2 398.1 276.0 397.5C274.8 396.9 273.4 396.6 272.0 397.5Z" fill="#ddff22"/>
<path d="M275.0 410.8C273.9 410.0 271.8 409.9 270.1 410.1C268.4 410.3 266.3 411.1 264.6 412.2C262.9 413.3 260.8 415.3 259.7 417.0C258.6 418.7 257.8 420.9 257.9 422.6C258.0 424.4 259.0 426.4 260.4 427.5C261.8 428.6 264.0 429.2 266.0 429.3C268.0 429.4 270.7 428.6 272.2 428.2C273.7 427.8 274.3 427.8 275.0 426.8C275.7 425.8 276.2 424.0 276.4 422.0C276.6 420.0 276.6 416.9 276.4 415.0C276.2 413.1 276.1 411.6 275.0 410.8Z" fill="#aaff55"/>
<path d="M269.0 421.3L270.0 422.3L269.0 423.3L268.0 422.3Z" fill="#77ff88"/>
<path d="M108.0 452.0C109.2 450.6 112.5 452.1 115.0 451.7C117.5 451.2 120.5 450.2 123.3 449.3C126.1 448.4 128.9 447.0 131.7 446.1C134.5 445.2 137.2 444.3 140.0 444.0C142.8 443.7 145.8 443.8 148.4 444.2C151.0 444.6 153.2 445.6 155.3 446.7C157.4 447.8 159.6 450.0 160.9 451.0C162.2 452.0 162.5 453.0 163.3 452.6C164.2 452.2 165.1 450.1 166.0 448.5C166.9 446.9 167.9 444.8 168.6 443.0C169.3 441.2 169.5 439.1 170.3 437.5C171.1 435.9 171.7 434.5 173.4 433.6C175.1 432.7 177.9 432.4 180.4 432.2C182.9 432.0 186.3 432.2 188.7 432.6C191.1 433.0 193.0 433.8 195.0 434.5C197.0 435.2 198.6 436.1 200.6 437.1C202.6 438.1 205.0 439.1 206.8 440.6C208.7 442.1 210.5 444.1 211.7 446.1C212.9 448.1 213.4 450.2 213.8 452.4C214.2 454.6 214.3 456.9 214.2 459.3C214.1 461.7 213.5 464.8 213.1 467.0C212.7 469.2 212.6 470.8 211.7 472.6C210.8 474.5 209.1 476.5 207.5 478.1C205.9 479.7 204.1 480.9 202.0 482.3C199.9 483.7 197.7 485.1 195.0 486.5C192.3 487.9 188.7 489.3 185.8 490.5C182.9 491.7 180.2 492.5 177.4 493.5C174.6 494.5 171.8 495.4 169.1 496.5C166.4 497.6 163.6 498.8 161.4 500.4C159.2 502.0 157.6 504.2 155.9 506.0C154.2 507.8 153.7 510.0 151.0 511.0C148.3 512.0 145.2 516.3 140.0 512.0C134.8 507.7 125.3 493.7 120.0 485.0C114.7 476.3 110.0 465.5 108.0 460.0C106.0 454.5 106.8 453.4 108.0 452.0Z" fill="#ddff22"/>
<path d="M108.0 455.5C109.2 454.3 112.5 455.4 115.0 455.0C117.5 454.6 120.3 453.9 123.0 453.2C125.7 452.5 128.2 451.3 131.0 450.6C133.8 449.9 136.7 449.1 139.5 448.9C142.3 448.7 145.4 448.7 148.0 449.2C150.6 449.7 152.8 450.7 155.0 451.7C157.2 452.7 158.8 454.4 161.0 455.2C163.2 456.0 165.7 456.6 168.0 456.3C170.3 456.0 172.7 454.3 175.0 453.1C177.3 451.9 179.7 450.1 182.0 449.2C184.3 448.3 186.8 447.8 189.0 447.7C191.2 447.6 193.4 447.8 195.0 448.8C196.6 449.8 197.5 451.8 198.5 453.5C199.5 455.2 200.4 457.1 200.8 459.3C201.2 461.6 201.5 464.8 201.2 467.0C200.9 469.2 200.2 470.9 199.2 472.6C198.2 474.4 196.8 475.5 195.0 477.5C193.2 479.5 191.0 482.8 188.5 484.5C186.0 486.2 182.8 486.9 180.0 488.0C177.2 489.1 174.7 489.9 172.0 491.0C169.3 492.1 166.4 493.2 164.0 494.5C161.6 495.8 159.3 497.1 157.5 498.5C155.7 499.9 154.6 501.2 153.0 503.0C151.4 504.8 150.5 508.2 148.0 509.0C145.5 509.8 143.0 512.8 138.0 508.0C133.0 503.2 123.0 487.7 118.0 480.0C113.0 472.3 109.7 466.1 108.0 462.0C106.3 457.9 106.8 456.7 108.0 455.5Z" fill="#aaff55"/>
<path d="M112.0 460.0C113.0 458.0 116.1 458.5 118.0 457.8C119.9 457.1 121.0 456.7 123.3 456.0C125.6 455.3 128.9 454.3 131.7 453.8C134.5 453.3 137.2 452.8 140.0 452.8C142.8 452.8 145.8 453.2 148.4 453.8C151.0 454.4 153.0 455.6 155.3 456.6C157.6 457.6 160.0 459.3 162.3 460.0C164.6 460.7 167.0 461.1 169.3 460.8C171.6 460.6 173.9 459.1 176.2 458.5C178.5 457.9 181.1 456.9 183.2 457.0C185.2 457.1 187.2 457.8 188.5 459.0C189.8 460.2 190.7 462.5 191.0 464.5C191.3 466.5 191.2 469.0 190.5 471.0C189.8 473.0 188.7 475.0 187.0 476.7C185.3 478.4 182.9 479.7 180.4 481.0C177.9 482.3 174.8 483.3 172.0 484.4C169.2 485.5 166.2 486.3 163.7 487.5C161.1 488.7 158.8 490.1 156.7 491.5C154.6 492.9 152.8 494.5 151.2 496.0C149.6 497.5 148.4 498.8 147.0 500.5C145.6 502.2 145.8 506.1 143.0 506.0C140.2 505.9 135.2 506.0 130.0 500.0C124.8 494.0 115.0 476.7 112.0 470.0C109.0 463.3 111.0 462.0 112.0 460.0Z" fill="#77ff88"/>
<path d="M114.0 464.0C115.4 462.4 118.6 462.8 120.6 462.1C122.6 461.4 124.0 460.6 126.1 460.0C128.2 459.4 130.5 458.9 133.1 458.7C135.7 458.5 138.8 458.4 141.4 458.7C144.0 459.0 146.1 459.8 148.4 460.7C150.7 461.6 153.0 463.0 155.3 464.2C157.6 465.4 160.0 466.9 162.3 467.7C164.6 468.5 167.0 469.0 169.3 469.1C171.6 469.2 174.3 468.0 176.2 468.4C178.0 468.8 179.8 469.9 180.4 471.2C181.0 472.5 180.6 474.7 179.7 476.0C178.8 477.3 176.8 478.0 174.8 478.8C172.8 479.6 170.2 480.1 167.9 480.9C165.6 481.7 163.2 482.5 160.9 483.7C158.6 484.9 156.1 486.5 154.0 487.9C151.9 489.3 150.2 490.6 148.4 492.0C146.7 493.4 145.1 494.5 143.5 496.2C141.9 497.9 142.1 502.2 139.0 502.0C135.9 501.8 129.5 500.0 125.0 495.0C120.5 490.0 113.8 477.2 112.0 472.0C110.2 466.8 112.6 465.6 114.0 464.0Z" fill="#44ffbb"/>
<path d="M118.0 470.0C119.5 468.8 122.2 468.4 124.0 467.7C125.8 467.0 126.9 466.1 128.9 465.6C130.9 465.1 133.6 464.8 135.9 464.9C138.2 465.0 140.6 465.5 142.8 466.3C145.0 467.1 147.5 468.3 149.1 469.8C150.7 471.3 151.9 473.5 152.6 475.3C153.3 477.1 153.5 479.1 153.3 480.9C153.1 482.6 152.2 484.3 151.2 485.8C150.1 487.3 148.4 488.9 147.0 490.0C145.6 491.1 144.5 491.7 142.8 492.7C141.1 493.7 140.0 496.4 137.0 496.0C134.0 495.6 128.7 493.5 125.0 490.0C121.3 486.5 116.2 478.3 115.0 475.0C113.8 471.7 116.5 471.2 118.0 470.0Z" fill="#11ffee"/>
<path d="M120.0 474.0C120.6 472.1 123.7 473.5 125.4 473.3C127.1 473.1 128.3 472.6 130.3 472.6C132.3 472.6 135.2 472.7 137.3 473.3C139.4 473.9 141.4 474.9 142.8 476.0C144.2 477.1 145.2 478.7 145.6 480.2C145.9 481.7 145.6 483.6 144.9 485.1C144.2 486.6 142.7 488.3 141.4 489.3C140.1 490.3 138.9 490.7 137.3 491.3C135.7 491.9 134.6 494.1 132.0 493.0C129.4 491.9 124.0 488.2 122.0 485.0C120.0 481.8 119.4 475.9 120.0 474.0Z" fill="#00bbff"/>
<path d="M124.0 477.0C124.8 475.9 126.9 476.9 128.9 476.7C130.9 476.5 133.9 475.8 135.9 476.0C137.9 476.2 139.7 477.1 140.7 478.1C141.7 479.2 142.2 481.0 142.1 482.3C142.0 483.6 141.0 485.0 140.0 485.8C139.0 486.6 137.4 486.7 135.9 487.2C134.4 487.7 133.0 489.7 131.0 489.0C129.0 488.3 125.2 485.0 124.0 483.0C122.8 481.0 123.2 478.1 124.0 477.0Z" fill="#0088ff"/>
<path d="M131.0 480.9L134.5 478.1L138.7 480.6L135.2 483.7Z" fill="#0044ff"/>
<path d="M196.0 305.0C211.6 306.3 198.0 310.6 198.7 312.8C199.4 315.0 199.4 316.2 200.3 318.0C201.2 319.8 202.5 321.6 203.9 323.3C205.3 325.0 207.1 326.4 208.6 328.0C210.1 329.6 211.6 331.5 212.8 333.2C214.0 334.9 215.0 336.6 215.9 338.4C216.8 340.2 217.5 342.2 218.2 344.1C218.9 346.0 219.4 347.9 220.1 349.9C220.8 351.9 221.5 354.2 222.2 356.1C222.9 358.0 223.5 359.9 224.5 361.3C225.5 362.8 226.2 363.5 228.0 364.8C229.8 366.1 232.7 367.2 235.3 369.0C237.9 370.8 241.2 373.1 243.7 375.3C246.1 377.5 248.6 380.0 250.0 382.3C251.4 384.6 252.1 386.9 252.0 389.2C251.9 391.5 250.7 394.2 249.3 396.2C247.9 398.2 245.8 399.7 243.7 401.0C241.6 402.3 239.0 403.4 236.7 403.8C234.4 404.2 232.1 403.5 229.8 403.1C227.5 402.7 225.1 402.3 222.8 401.5C220.5 400.7 218.0 399.4 215.9 398.5C213.8 397.6 212.1 396.4 210.3 395.8C208.6 395.2 207.0 394.8 205.4 395.0C203.8 395.2 202.3 396.5 200.6 397.0C198.9 397.5 197.3 398.1 195.0 398.0C192.7 397.9 189.8 397.1 187.0 396.5C184.2 395.9 180.4 394.8 178.0 394.5C175.6 394.2 174.5 394.1 172.5 394.5C170.5 394.9 168.4 395.9 166.0 397.0C163.6 398.1 160.4 399.6 158.0 401.0C155.6 402.4 153.4 403.8 151.5 405.5C149.6 407.2 148.0 408.9 146.5 411.0C145.0 413.1 143.7 415.5 142.5 418.0C141.3 420.5 140.5 423.6 139.5 426.0C138.5 428.4 137.9 430.6 136.5 432.5C135.1 434.4 132.9 436.2 131.0 437.5C129.1 438.8 127.7 439.6 125.0 440.5C122.3 441.4 118.3 442.6 115.0 443.0C111.7 443.4 106.7 466.0 105.0 443.0C103.3 420.0 89.8 328.0 105.0 305.0C120.2 282.0 180.4 303.7 196.0 305.0Z" fill="#ff7700"/>
<path d="M185.0 305.0C198.9 306.4 187.6 311.0 188.3 313.3C189.0 315.6 188.6 316.9 189.3 318.6C190.0 320.3 191.0 321.8 192.4 323.3C193.8 324.8 195.9 326.0 197.7 327.4C199.5 328.8 201.5 330.1 203.4 331.6C205.3 333.1 207.4 334.6 209.1 336.3C210.8 338.0 212.4 340.0 213.8 342.0C215.2 344.0 216.5 346.1 217.5 348.3C218.5 350.5 219.0 352.9 219.6 355.1C220.2 357.3 220.4 359.4 221.1 361.3C221.8 363.2 222.5 365.0 223.5 366.5C224.5 368.0 225.3 369.2 227.0 370.5C228.7 371.8 231.5 372.7 233.5 374.2C235.5 375.7 237.7 377.6 239.0 379.7C240.3 381.8 241.3 384.7 241.5 387.0C241.7 389.3 241.3 391.9 240.2 393.4C239.1 394.9 236.7 395.8 234.7 396.2C232.7 396.6 230.5 396.4 228.4 395.9C226.3 395.4 224.2 394.4 222.1 393.4C220.0 392.4 217.9 390.8 215.9 389.9C213.9 389.0 212.1 388.2 210.3 387.8C208.6 387.4 207.0 386.9 205.4 387.3C203.8 387.7 202.3 389.3 200.6 390.0C198.9 390.7 197.6 391.2 195.0 391.5C192.4 391.8 188.6 391.6 185.0 391.5C181.4 391.4 177.0 390.8 173.4 391.0C169.8 391.2 166.9 391.9 163.7 392.5C160.5 393.1 157.2 393.8 154.0 394.5C150.8 395.2 147.2 396.1 144.2 396.7C141.2 397.3 138.7 398.0 135.9 398.4C133.1 398.8 130.1 398.6 127.5 398.8C125.0 399.0 121.3 398.4 120.6 399.5C119.9 400.6 122.1 403.0 123.3 405.1C124.5 407.2 126.5 409.7 127.5 412.0C128.6 414.3 129.4 416.7 129.6 419.0C129.8 421.3 129.7 423.9 128.9 426.0C128.1 428.1 126.3 430.1 124.7 431.5C123.1 432.9 120.8 433.6 119.2 434.3C117.6 435.0 117.4 435.4 115.0 435.7C112.6 436.0 106.7 457.8 105.0 436.0C103.3 414.2 91.7 326.8 105.0 305.0C118.3 283.2 171.1 303.6 185.0 305.0Z" fill="#ff3300"/>
<path d="M176.0 305.0C189.0 307.2 181.5 314.9 183.2 318.1C184.9 321.3 184.7 322.5 186.0 324.4C187.3 326.3 189.3 328.0 190.8 329.3C192.3 330.6 193.4 331.5 195.0 332.3C196.6 333.1 198.6 333.1 200.6 334.1C202.6 335.1 204.8 336.6 206.8 338.3C208.8 340.1 210.8 342.4 212.4 344.6C214.0 346.8 215.7 349.2 216.6 351.5C217.5 353.8 217.7 356.2 218.0 358.5C218.3 360.8 218.4 363.1 218.7 365.4C219.0 367.7 219.6 370.6 220.0 372.4C220.4 374.2 220.2 375.4 221.0 376.0C221.8 376.6 223.3 375.5 224.9 376.0C226.5 376.5 228.9 377.5 230.5 378.8C232.1 380.1 234.3 382.1 234.7 383.7C235.0 385.3 233.6 387.5 232.6 388.5C231.6 389.5 229.8 390.4 228.4 389.9C227.0 389.4 225.5 387.2 224.2 385.7C222.9 384.2 221.7 381.9 220.7 380.9C219.7 379.9 219.3 379.5 218.0 379.5C216.7 379.5 215.1 380.5 213.1 380.9C211.1 381.3 208.2 381.9 206.1 382.0C204.0 382.1 202.4 381.8 200.6 381.5C198.8 381.2 197.2 380.3 195.0 380.0C192.8 379.7 189.7 379.4 187.3 379.5C184.9 379.6 182.5 380.0 180.4 380.5C178.3 381.0 176.7 381.7 174.8 382.5C173.0 383.3 171.3 384.4 169.3 385.3C167.3 386.2 165.8 387.1 163.0 388.0C160.2 388.9 156.0 389.8 152.6 390.5C149.2 391.2 146.1 391.9 142.8 392.3C139.6 392.7 136.3 392.8 133.1 392.8C129.8 392.8 126.3 392.6 123.3 392.3C120.3 392.0 118.0 391.4 115.0 391.2C112.0 391.0 106.7 405.4 105.0 391.0C103.3 376.6 93.2 319.3 105.0 305.0C116.8 290.7 163.0 302.8 176.0 305.0Z" fill="#dd0000"/>
<path d="M110.0 413.0C110.8 410.7 113.6 413.5 115.0 414.1C116.4 414.8 117.5 415.6 118.5 416.9C119.5 418.2 121.2 420.4 121.3 421.8C121.4 423.2 120.2 424.5 119.2 425.3C118.2 426.1 116.5 426.2 115.0 426.7C113.5 427.1 110.8 430.3 110.0 428.0C109.2 425.7 109.2 415.3 110.0 413.0Z" fill="#dd0000"/>
<path d="M170.0 305.0C182.1 307.1 176.0 314.3 177.6 317.4C179.2 320.5 178.5 321.6 179.7 323.7C180.9 325.8 182.8 328.1 184.6 330.0C186.4 331.9 189.1 333.6 190.8 334.8C192.5 336.1 193.4 336.6 195.0 337.5C196.6 338.4 198.8 339.1 200.6 340.4C202.4 341.7 204.4 343.4 206.1 345.3C207.8 347.2 209.8 349.3 211.0 351.5C212.2 353.7 212.9 356.2 213.1 358.5C213.3 360.8 213.1 363.4 212.4 365.4C211.7 367.4 210.4 369.0 208.9 370.3C207.4 371.6 205.6 372.4 203.3 373.1C201.0 373.8 197.7 374.2 195.0 374.5C192.3 374.8 189.7 374.7 187.3 374.9C184.9 375.1 182.7 375.0 180.4 375.5C178.1 376.0 175.7 377.0 173.4 378.0C171.1 379.0 168.8 380.3 166.5 381.4C164.2 382.5 161.8 383.6 159.5 384.6C157.2 385.6 155.4 386.6 153.0 387.3C150.6 388.0 148.8 388.4 145.0 388.7C141.2 389.0 134.5 388.9 130.0 389.0C125.5 389.1 122.2 389.0 118.0 389.0C113.8 389.0 107.2 403.0 105.0 389.0C102.8 375.0 94.2 319.0 105.0 305.0C115.8 291.0 157.9 302.9 170.0 305.0Z" fill="#990000"/>
<path d="M213.0 305.0C198.7 306.4 212.0 307.8 214.0 308.5C216.0 309.2 221.2 308.8 225.0 309.0C228.8 309.2 232.9 308.8 236.7 309.5C240.5 310.2 244.7 311.6 247.9 313.3C251.2 315.0 253.4 317.3 256.2 319.5C259.0 321.7 262.1 324.2 264.6 326.5C267.2 328.8 269.8 331.7 271.5 333.4C273.2 335.1 273.7 335.5 275.0 336.9C276.3 338.3 277.6 340.1 279.2 341.8C280.8 343.6 282.6 345.8 284.7 347.4C286.8 349.0 289.4 350.5 291.7 351.5C294.0 352.5 296.4 353.2 298.7 353.6C301.0 354.0 303.3 354.0 305.6 353.6C307.9 353.2 310.5 352.3 312.6 351.5C314.7 350.7 316.0 349.5 318.1 348.7C320.2 347.9 322.2 347.9 325.0 346.5C327.8 345.1 339.2 347.8 335.0 340.0C330.8 332.2 320.3 305.8 300.0 300.0C279.7 294.2 227.3 303.6 213.0 305.0Z" fill="#ff7700"/>
<path d="M236.0 305.0C227.3 306.5 236.3 308.1 238.0 309.0C239.7 309.9 243.4 309.9 246.0 310.5C248.6 311.1 251.0 311.4 253.4 312.5C255.8 313.6 258.1 315.5 260.4 317.4C262.7 319.3 264.9 321.6 267.3 323.7C269.7 325.8 273.1 328.0 275.0 330.0C276.9 332.0 277.1 333.9 278.5 335.5C279.9 337.1 281.3 338.5 283.3 339.7C285.3 340.9 288.0 342.0 290.3 342.5C292.6 343.0 295.0 342.7 297.3 342.5C299.6 342.3 302.1 341.8 304.2 341.1C306.3 340.4 307.8 339.3 309.8 338.3C311.8 337.3 314.3 337.2 316.0 335.0C317.7 332.8 324.3 330.8 320.0 325.0C315.7 319.2 304.0 303.3 290.0 300.0C276.0 296.7 244.7 303.5 236.0 305.0Z" fill="#ff3300"/>
<path d="M262.0 305.0C257.7 306.8 263.0 309.2 264.0 311.0C265.0 312.8 266.7 314.3 268.0 316.0C269.3 317.7 270.8 319.5 272.0 321.0C273.2 322.5 274.0 323.5 275.0 325.0C276.0 326.5 276.7 328.4 278.0 330.0C279.3 331.6 280.9 333.3 282.7 334.5C284.5 335.7 286.7 336.7 288.9 337.2C291.1 337.7 293.6 337.8 295.9 337.6C298.2 337.4 300.4 336.9 302.8 335.8C305.2 334.7 308.0 333.6 310.0 331.0C312.0 328.4 318.3 325.2 315.0 320.0C311.7 314.8 298.8 302.5 290.0 300.0C281.2 297.5 266.3 303.2 262.0 305.0Z" fill="#dd0000"/>
<path d="M270.0 312.0C270.3 314.2 271.0 315.9 272.0 318.0C273.0 320.1 274.3 322.6 276.0 324.5C277.7 326.4 280.1 328.2 282.0 329.5C283.9 330.8 285.7 331.8 287.5 332.5C289.3 333.2 291.1 334.0 293.0 334.0C294.9 334.0 297.0 334.0 299.0 332.5C301.0 331.0 306.5 329.6 305.0 325.0C303.5 320.4 295.8 308.3 290.0 305.0C284.2 301.7 273.3 303.8 270.0 305.0C266.7 306.2 269.7 309.8 270.0 312.0Z" fill="#990000"/>
<path d="M355.0 366.0C351.5 367.2 339.5 367.2 334.0 368.0C328.5 368.8 325.7 369.8 322.0 371.0C318.3 372.2 315.0 373.3 312.0 375.0C309.0 376.7 306.5 378.8 304.0 381.0C301.5 383.2 299.0 386.0 297.0 388.5C295.0 391.0 293.2 393.4 292.0 396.0C290.8 398.6 290.0 400.9 289.5 404.0C289.0 407.1 289.2 411.7 288.9 414.8C288.6 417.9 287.9 420.2 287.5 422.5C287.1 424.8 287.5 426.8 286.8 428.7C286.1 430.6 284.7 432.2 283.3 433.6C281.9 435.0 279.9 436.1 278.5 437.1C277.1 438.1 276.6 438.2 275.0 439.4C273.4 440.5 270.7 442.3 268.7 444.0C266.7 445.7 265.0 447.7 263.2 449.6C261.4 451.5 259.2 453.4 257.6 455.2C256.0 457.0 254.8 458.7 253.4 460.7C252.0 462.7 250.0 465.9 249.0 467.0C248.0 468.1 248.4 465.8 247.5 467.0C246.6 468.2 244.6 471.7 243.5 474.0C242.4 476.3 241.8 478.6 240.9 480.9C240.0 483.2 239.1 485.7 238.1 487.9C237.1 490.1 236.3 491.9 235.0 494.0C233.7 496.1 231.8 498.8 230.0 500.5C228.2 502.2 225.8 503.0 224.0 504.5C222.2 506.0 220.8 507.6 219.5 509.5C218.2 511.4 217.1 513.6 216.5 516.0C215.9 518.4 216.0 521.3 215.9 524.0C215.8 526.7 215.8 529.2 215.9 532.0C216.0 534.8 193.2 538.8 216.4 541.0C239.6 543.2 331.9 575.0 355.0 545.0C378.1 515.0 355.0 390.8 355.0 361.0C355.0 331.2 358.5 364.8 355.0 366.0Z" fill="#ff7700"/>
<path d="M355.0 373.0C351.8 374.0 340.8 374.3 336.0 375.0C331.2 375.7 329.3 376.1 326.0 377.0C322.7 377.9 319.2 378.9 316.0 380.5C312.8 382.1 309.5 384.2 306.5 386.5C303.5 388.8 300.3 391.7 298.0 394.5C295.7 397.3 293.7 399.3 292.5 403.5C291.3 407.7 291.0 415.7 290.6 419.7C290.2 423.7 290.6 425.1 290.3 427.3C290.0 429.5 289.8 431.4 288.9 432.9C288.0 434.4 286.3 435.1 284.7 436.4C283.1 437.7 280.8 439.3 279.2 440.6C277.6 441.9 276.4 442.8 275.0 444.3C273.6 445.8 272.3 447.8 270.8 449.6C269.3 451.4 267.5 453.4 266.0 455.2C264.5 457.0 263.5 458.7 261.8 460.7C260.1 462.7 257.6 464.6 256.0 467.0C254.4 469.4 252.9 472.5 252.3 475.3C251.7 478.1 252.2 480.9 252.5 483.7C252.8 486.5 253.5 489.4 254.0 492.0C254.5 494.6 255.2 496.9 255.5 499.0C255.8 501.1 256.3 503.0 255.5 504.6C254.7 506.2 252.7 507.7 250.7 508.7C248.7 509.7 246.0 510.3 243.7 510.8C241.4 511.3 239.0 511.0 236.7 511.5C234.4 512.0 231.8 512.6 229.8 513.6C227.8 514.6 226.2 516.1 224.9 517.8C223.7 519.5 222.8 521.8 222.3 524.0C221.8 526.2 222.1 528.2 222.0 531.0C221.9 533.8 199.8 538.7 222.0 541.0C244.2 543.3 332.8 573.7 355.0 545.0C377.2 516.3 355.0 397.7 355.0 369.0C355.0 340.3 358.2 372.0 355.0 373.0Z" fill="#ff3300"/>
<path d="M248.6 541.0C244.4 539.3 247.7 533.8 247.9 531.0C248.1 528.2 249.0 525.7 250.0 524.0C251.0 522.3 252.6 521.1 254.1 520.6C255.6 520.1 257.5 520.6 259.0 521.3C260.5 522.0 261.8 523.2 263.2 524.7C264.6 526.2 266.0 528.7 267.3 530.3C268.6 531.9 269.9 532.7 270.8 534.5C271.8 536.3 276.7 539.9 273.0 541.0C269.3 542.1 252.8 542.7 248.6 541.0Z" fill="#ff7700"/>
<path d="M256.2 541.0C255.1 539.8 255.2 535.3 255.5 533.8C255.8 532.2 257.4 531.7 258.3 531.7C259.2 531.7 260.5 532.2 261.1 533.8C261.7 535.3 262.6 539.8 261.8 541.0C261.0 542.2 257.2 542.2 256.2 541.0Z" fill="#ffaa00"/>
<path d="M355.0 379.5C352.8 380.3 346.2 379.7 342.0 380.0C337.8 380.3 333.7 380.7 330.0 381.4C326.3 382.1 323.3 382.6 320.0 384.0C316.7 385.4 313.2 387.2 310.0 389.5C306.8 391.8 303.3 394.8 300.7 397.5C298.1 400.2 295.8 402.6 294.5 406.0C293.2 409.4 293.4 414.3 293.1 417.6C292.8 420.9 292.9 423.4 292.8 426.0C292.7 428.6 293.2 430.9 292.4 432.9C291.6 434.9 289.9 436.2 288.2 437.8C286.5 439.4 284.2 440.8 282.0 442.6C279.8 444.4 276.9 446.5 275.0 448.5C273.1 450.5 272.2 452.5 270.8 454.5C269.4 456.5 268.2 458.6 266.7 460.7C265.2 462.8 263.4 464.8 262.0 467.0C260.6 469.2 259.0 471.7 258.3 474.0C257.6 476.3 257.8 478.6 257.9 480.9C258.0 483.2 258.6 485.6 259.0 487.9C259.4 490.2 260.0 492.2 260.4 494.8C260.8 497.4 260.9 500.4 261.1 503.2C261.3 506.0 261.2 508.9 261.8 511.5C262.4 514.0 263.6 516.2 264.6 518.5C265.6 520.8 266.9 523.3 268.0 525.4C269.1 527.5 270.4 529.5 271.5 531.0C272.6 532.5 273.2 532.8 274.3 534.5C275.4 536.2 264.6 539.2 278.0 541.0C291.4 542.8 342.2 572.7 355.0 545.0C367.8 517.3 355.0 402.6 355.0 375.0C355.0 347.4 357.2 378.7 355.0 379.5Z" fill="#dd0000"/>
<path d="M355.0 390.0C353.3 391.4 348.5 389.2 345.0 388.6C341.5 388.0 337.5 386.7 334.0 386.6C330.5 386.5 327.3 386.9 324.0 388.0C320.7 389.1 317.3 390.8 314.0 393.0C310.7 395.2 306.8 398.2 304.0 401.0C301.2 403.8 298.9 406.8 297.5 409.5C296.1 412.2 296.0 414.5 295.7 417.0C295.4 419.5 295.6 422.0 295.6 424.6C295.6 427.2 296.5 430.6 295.9 432.9C295.2 435.2 293.6 436.6 291.7 438.5C289.8 440.4 286.8 442.4 284.7 444.0C282.6 445.6 280.8 446.8 279.2 448.2C277.6 449.6 276.2 450.9 275.0 452.5C273.8 454.1 273.1 455.8 272.0 457.5C270.9 459.2 269.6 460.9 268.5 462.5C267.4 464.1 266.4 465.1 265.5 467.0C264.6 468.9 263.6 471.7 263.2 474.0C262.8 476.3 262.7 478.6 262.9 480.9C263.1 483.2 264.1 485.6 264.6 487.9C265.1 490.2 265.6 492.2 266.0 494.8C266.4 497.4 266.5 500.4 266.7 503.2C266.9 506.0 266.7 508.9 267.3 511.5C267.9 514.0 269.2 516.2 270.1 518.5C271.0 520.8 272.1 523.5 272.9 525.4C273.7 527.2 273.8 527.2 275.0 529.6C276.2 532.0 275.8 537.4 280.0 540.0C284.2 542.6 287.5 544.2 300.0 545.0C312.5 545.8 345.8 572.5 355.0 545.0C364.2 517.5 355.0 405.8 355.0 380.0C355.0 354.2 356.7 388.6 355.0 390.0Z" fill="#990000"/>
<path d="M226.3 541.0C223.6 539.5 225.5 534.3 225.8 531.7C226.1 529.1 226.8 527.1 227.9 525.5C229.0 523.9 230.9 522.2 232.6 521.8C234.2 521.4 236.3 521.9 237.8 522.9C239.3 523.9 240.6 525.7 241.4 527.5C242.2 529.3 242.4 531.5 242.5 533.8C242.6 536.0 244.7 539.8 242.0 541.0C239.3 542.2 229.0 542.5 226.3 541.0Z" fill="#dd0000"/>
<path d="M230.5 532.0L234.5 534.0L230.8 536.0Z" fill="#990000"/>
<path d="M181.5 530.2C183.6 527.8 185.8 527.2 187.7 525.5C189.6 523.8 191.5 522.1 192.9 520.2C194.3 518.3 195.7 516.1 196.1 514.0C196.5 511.9 196.3 509.5 195.6 507.7C194.9 505.9 193.6 504.2 191.9 503.0C190.2 501.8 187.9 500.9 185.6 500.4C183.3 499.9 180.9 499.7 178.3 499.9C175.7 500.1 172.6 500.6 170.0 501.5C167.4 502.4 165.0 503.6 163.0 505.0C161.0 506.4 158.5 505.8 158.0 510.0C157.5 514.2 157.2 525.0 160.0 530.0C162.8 535.0 171.4 540.0 175.0 540.0C178.6 540.0 179.4 532.6 181.5 530.2Z" fill="#ff7700"/>
<path d="M177.8 528.6C180.9 527.5 182.1 525.3 183.6 523.4C185.1 521.5 186.4 519.2 186.7 517.1C187.0 515.0 186.5 512.6 185.6 510.9C184.7 509.2 183.1 507.7 181.5 506.7C179.9 505.7 178.2 505.3 176.3 505.1C174.4 504.9 171.8 505.0 170.0 505.6C168.2 506.2 166.8 507.3 165.5 508.5C164.2 509.7 162.6 509.4 162.5 513.0C162.4 516.6 162.4 527.4 165.0 530.0C167.6 532.6 174.7 529.7 177.8 528.6Z" fill="#ff3300"/>
<path d="M180.7 517.1C180.7 518.2 180.4 519.4 179.8 520.4C179.3 521.3 178.4 522.2 177.4 522.7C176.5 523.3 175.3 523.6 174.2 523.6C173.1 523.6 171.9 523.3 170.9 522.7C170.0 522.2 169.1 521.3 168.6 520.4C168.0 519.4 167.7 518.2 167.7 517.1C167.7 516.0 168.0 514.8 168.6 513.9C169.1 512.9 170.0 512.0 170.9 511.5C171.9 510.9 173.1 510.6 174.2 510.6C175.3 510.6 176.5 510.9 177.4 511.5C178.4 512.0 179.3 512.9 179.8 513.9C180.4 514.8 180.7 516.0 180.7 517.1Z" fill="#dd0000"/>
<path d="M172.0 518.0L173.6 519.0L172.2 520.2Z" fill="#990000"/>
<path d="M360.0 430.4C357.9 415.5 351.9 430.2 347.2 430.4C342.5 430.7 336.8 430.7 331.6 432.1C326.4 433.5 320.2 436.2 315.9 438.7C311.6 441.3 306.8 443.1 305.7 447.3C304.6 451.6 308.2 459.7 309.1 464.1C310.1 468.5 310.6 470.7 311.4 473.7C312.2 476.6 312.9 479.1 314.0 481.7C315.1 484.4 316.9 487.4 318.1 489.4C319.2 491.5 319.7 492.3 321.1 494.1C322.5 496.0 319.7 496.2 326.2 500.5C332.7 504.8 354.4 531.7 360.0 520.0C365.6 508.3 362.1 445.4 360.0 430.4Z" fill="#dd0000"/>
<path d="M360.0 432.2C357.9 417.6 351.8 432.0 347.2 432.2C342.6 432.5 337.4 432.6 332.5 433.9C327.6 435.2 321.7 437.8 317.7 440.2C313.7 442.6 309.4 444.4 308.3 448.4C307.2 452.4 310.3 459.9 311.0 464.1C311.8 468.3 312.2 470.5 312.9 473.3C313.6 476.1 314.3 478.5 315.3 481.1C316.3 483.6 317.9 486.6 319.0 488.6C320.1 490.7 320.6 491.4 321.9 493.3C323.1 495.1 320.4 495.1 326.7 499.5C333.1 504.0 354.5 531.2 360.0 520.0C365.5 508.8 362.1 446.9 360.0 432.2Z" fill="#ff3300"/>
<path d="M360.0 434.0C357.9 419.7 351.6 433.8 347.2 434.0C342.8 434.3 337.9 434.4 333.3 435.7C328.7 437.0 323.3 439.4 319.5 441.7C315.8 444.0 311.9 445.7 310.8 449.4C309.7 453.1 312.4 460.2 312.9 464.1C313.5 468.0 313.8 470.2 314.4 472.9C315.0 475.6 315.6 477.9 316.5 480.4C317.4 482.9 318.9 485.8 319.9 487.8C320.9 489.8 321.4 490.6 322.6 492.4C323.8 494.2 321.0 494.0 327.3 498.6C333.5 503.2 354.5 530.8 360.0 520.0C365.5 509.2 362.1 448.4 360.0 434.0Z" fill="#ff7700"/>
<path d="M360.0 435.8C357.9 421.8 351.5 435.6 347.2 435.8C342.9 436.1 338.5 436.3 334.2 437.5C329.9 438.7 324.9 441.0 321.4 443.2C317.9 445.4 314.5 446.9 313.4 450.4C312.3 453.9 314.4 460.4 314.9 464.1C315.3 467.8 315.4 469.9 315.9 472.5C316.4 475.1 316.9 477.3 317.8 479.8C318.6 482.2 319.9 485.1 320.8 487.0C321.8 489.0 322.2 489.7 323.4 491.5C324.5 493.3 321.7 492.9 327.8 497.7C333.9 502.4 354.6 530.3 360.0 520.0C365.4 509.7 362.1 449.9 360.0 435.8Z" fill="#ffaa00"/>
<path d="M360.0 437.6C357.9 423.9 351.4 437.4 347.2 437.6C343.0 437.9 339.1 438.1 335.1 439.3C331.1 440.4 326.4 442.6 323.2 444.7C320.0 446.7 317.0 448.2 315.9 451.5C314.9 454.7 316.5 460.7 316.8 464.1C317.0 467.5 317.0 469.6 317.4 472.1C317.8 474.6 318.3 476.7 319.0 479.1C319.7 481.4 320.9 484.3 321.8 486.2C322.6 488.1 323.0 488.9 324.1 490.7C325.2 492.4 322.4 491.9 328.3 496.8C334.3 501.7 354.7 529.9 360.0 520.0C365.3 510.1 362.1 451.4 360.0 437.6Z" fill="#ffdd00"/>
<path d="M360.0 439.4C357.9 426.0 351.2 439.2 347.2 439.4C343.2 439.7 339.7 439.9 336.0 441.1C332.3 442.2 328.0 444.3 325.1 446.2C322.1 448.1 319.5 449.5 318.5 452.5C317.4 455.5 318.6 460.9 318.7 464.1C318.8 467.3 318.7 469.3 318.9 471.7C319.2 474.1 319.6 476.1 320.3 478.4C320.9 480.7 321.9 483.5 322.7 485.4C323.5 487.3 323.8 488.1 324.9 489.8C325.9 491.5 323.0 490.8 328.9 495.8C334.7 500.9 354.8 529.4 360.0 520.0C365.2 510.6 362.1 452.9 360.0 439.4Z" fill="#ddff22"/>
<path d="M360.0 441.2C357.9 428.1 351.1 441.0 347.2 441.2C343.3 441.5 340.2 441.8 336.8 442.9C333.5 443.9 329.5 445.9 326.9 447.7C324.3 449.4 322.1 450.8 321.0 453.5C320.0 456.3 320.7 461.1 320.6 464.1C320.5 467.1 320.3 469.0 320.4 471.3C320.6 473.6 321.0 475.5 321.5 477.8C322.0 480.0 322.9 482.7 323.6 484.6C324.3 486.5 324.7 487.2 325.6 488.9C326.6 490.6 323.7 489.7 329.4 494.9C335.1 500.1 354.9 528.9 360.0 520.0C365.1 511.1 362.1 454.4 360.0 441.2Z" fill="#aaff55"/>
<path d="M360.0 443.0C357.9 430.2 350.9 442.8 347.2 443.0C343.5 443.3 340.8 443.6 337.7 444.7C334.6 445.7 331.1 447.5 328.7 449.1C326.4 450.8 324.6 452.1 323.6 454.6C322.6 457.1 322.8 461.4 322.5 464.1C322.3 466.8 321.9 468.7 321.9 470.9C321.9 473.0 322.3 475.0 322.7 477.1C323.2 479.3 323.9 482.0 324.5 483.8C325.1 485.6 325.5 486.4 326.4 488.1C327.3 489.8 324.3 488.7 329.9 494.0C335.5 499.3 355.0 528.5 360.0 520.0C365.0 511.5 362.1 455.9 360.0 443.0Z" fill="#77ff88"/>
<path d="M360.0 444.8C357.9 432.3 350.8 444.6 347.2 444.8C343.6 445.1 341.4 445.5 338.6 446.4C335.8 447.4 332.6 449.1 330.6 450.6C328.5 452.1 327.2 453.3 326.1 455.6C325.1 457.8 324.9 461.6 324.5 464.1C324.0 466.6 323.5 468.4 323.4 470.5C323.3 472.5 323.6 474.4 324.0 476.4C324.3 478.5 324.9 481.2 325.5 483.0C326.0 484.8 326.3 485.5 327.1 487.2C328.0 488.9 325.0 487.6 330.5 493.1C336.0 498.5 355.1 528.0 360.0 520.0C364.9 512.0 362.1 457.4 360.0 444.8Z" fill="#44ffbb"/>
<path d="M360.0 446.6C357.9 434.4 350.6 446.4 347.2 446.6C343.8 446.9 341.9 447.3 339.5 448.2C337.0 449.1 334.2 450.7 332.4 452.1C330.6 453.5 329.7 454.6 328.7 456.6C327.7 458.6 327.0 461.9 326.4 464.1C325.7 466.3 325.1 468.1 324.9 470.1C324.7 472.0 325.0 473.8 325.2 475.8C325.5 477.8 325.9 480.4 326.4 482.2C326.8 483.9 327.1 484.7 327.9 486.3C328.6 488.0 325.7 486.5 331.0 492.1C336.4 497.7 355.2 527.6 360.0 520.0C364.8 512.4 362.1 458.9 360.0 446.6Z" fill="#11ffee"/>
<path d="M360.0 448.4C357.9 436.5 350.5 448.2 347.2 448.4C343.9 448.7 342.5 449.2 340.3 450.0C338.2 450.9 335.7 452.3 334.2 453.6C332.7 454.9 332.2 455.9 331.2 457.7C330.2 459.4 329.1 462.1 328.3 464.1C327.5 466.1 326.7 467.8 326.4 469.7C326.1 471.5 326.3 473.2 326.5 475.1C326.6 477.1 327.0 479.7 327.3 481.4C327.7 483.1 327.9 483.8 328.6 485.5C329.3 487.1 326.3 485.5 331.5 491.2C336.8 497.0 355.3 527.1 360.0 520.0C364.7 512.9 362.1 460.4 360.0 448.4Z" fill="#00bbff"/>
<path d="M360.0 451.7C357.9 443.7 350.0 451.6 347.2 451.7C344.4 451.8 344.7 451.8 343.4 452.3C342.1 452.9 340.7 453.8 339.4 455.0C338.1 456.2 336.8 457.8 335.5 459.5C334.2 461.3 332.6 463.3 331.6 465.4C330.6 467.5 329.8 470.0 329.3 471.9C328.8 473.9 328.5 475.4 328.6 477.1C328.8 478.9 329.6 480.9 330.2 482.3C330.8 483.7 331.3 484.4 332.2 485.6C333.0 486.8 330.7 487.1 335.3 489.5C340.0 491.9 355.9 506.3 360.0 500.0C364.1 493.7 362.1 459.8 360.0 451.7Z" fill="#0088ff"/>
<path d="M360.0 456.9C357.9 451.4 350.5 456.6 347.2 456.9C343.9 457.3 341.8 457.7 340.0 458.9C338.3 460.1 337.9 462.3 336.8 464.1C335.7 465.9 334.3 468.0 333.5 469.9C332.8 471.9 332.3 474.0 332.2 475.8C332.1 477.7 328.3 478.7 332.9 481.1C337.6 483.4 355.5 494.0 360.0 490.0C364.5 486.0 362.1 462.4 360.0 456.9Z" fill="#0044ff"/>
</g>
<rect x="110.1" y="302.7" width="242.1" height="241.5" fill="none" stroke="#3a3a3a" stroke-width="1.25"/>
<path d="M118.44 544.2v3.1M110.1 535.76h-3.1M126.48 544.2v1.3M110.1 527.72h-1.3M134.52 544.2v3.1M110.1 519.68h-3.1M142.56 544.2v1.3M110.1 511.64h-1.3M150.60 544.2v3.1M110.1 503.60h-3.1M158.64 544.2v1.3M110.1 495.56h-1.3M166.68 544.2v3.1M110.1 487.52h-3.1M174.72 544.2v1.3M110.1 479.48h-1.3M182.76 544.2v3.1M110.1 471.44h-3.1M190.80 544.2v1.3M110.1 463.40h-1.3M198.84 544.2v3.1M110.1 455.36h-3.1M206.88 544.2v1.3M110.1 447.32h-1.3M214.92 544.2v3.1M110.1 439.28h-3.1M222.96 544.2v1.3M110.1 431.24h-1.3M231.00 544.2v3.1M110.1 423.20h-3.1M239.04 544.2v1.3M110.1 415.16h-1.3M247.08 544.2v3.1M110.1 407.12h-3.1M255.12 544.2v1.3M110.1 399.08h-1.3M263.16 544.2v3.1M110.1 391.04h-3.1M271.20 544.2v1.3M110.1 383.00h-1.3M279.24 544.2v3.1M110.1 374.96h-3.1M287.28 544.2v1.3M110.1 366.92h-1.3M295.32 544.2v3.1M110.1 358.88h-3.1M303.36 544.2v1.3M110.1 350.84h-1.3M311.40 544.2v3.1M110.1 342.80h-3.1M319.44 544.2v1.3M110.1 334.76h-1.3M327.48 544.2v3.1M110.1 326.72h-3.1M335.52 544.2v1.3M110.1 318.68h-1.3M343.56 544.2v3.1M110.1 310.64h-3.1" stroke="#3a3a3a" stroke-width="0.9" fill="none"/>
<g font-family="Liberation Sans, Arial, sans-serif" font-size="7.0" fill="#151515">
<text transform="translate(118.4 554.7) scale(0.8 1)" text-anchor="middle">-70</text>
<text transform="translate(105.5 538.3) scale(0.8 1)" text-anchor="end">-70</text>
<text transform="translate(134.5 554.7) scale(0.8 1)" text-anchor="middle">-60</text>
<text transform="translate(105.5 522.2) scale(0.8 1)" text-anchor="end">-60</text>
<text transform="translate(150.6 554.7) scale(0.8 1)" text-anchor="middle">-50</text>
<text transform="translate(105.5 506.1) scale(0.8 1)" text-anchor="end">-50</text>
<text transform="translate(166.7 554.7) scale(0.8 1)" text-anchor="middle">-40</text>
<text transform="translate(105.5 490.0) scale(0.8 1)" text-anchor="end">-40</text>
<text transform="translate(182.8 554.7) scale(0.8 1)" text-anchor="middle">-30</text>
<text transform="translate(105.5 473.9) scale(0.8 1)" text-anchor="end">-30</text>
<text transform="translate(198.8 554.7) scale(0.8 1)" text-anchor="middle">-20</text>
<text transform="translate(105.5 457.9) scale(0.8 1)" text-anchor="end">-20</text>
<text transform="translate(214.9 554.7) scale(0.8 1)" text-anchor="middle">-10</text>
<text transform="translate(105.5 441.8) scale(0.8 1)" text-anchor="end">-10</text>
<text transform="translate(231.0 554.7) scale(0.8 1)" text-anchor="middle">0</text>
<text transform="translate(105.5 425.7) scale(0.8 1)" text-anchor="end">0</text>
<text transform="translate(247.1 554.7) scale(0.8 1)" text-anchor="middle">10</text>
<text transform="translate(105.5 409.6) scale(0.8 1)" text-anchor="end">10</text>
<text transform="translate(263.2 554.7) scale(0.8 1)" text-anchor="middle">20</text>
<text transform="translate(105.5 393.5) scale(0.8 1)" text-anchor="end">20</text>
<text transform="translate(279.2 554.7) scale(0.8 1)" text-anchor="middle">30</text>
<text transform="translate(105.5 377.5) scale(0.8 1)" text-anchor="end">30</text>
<text transform="translate(295.3 554.7) scale(0.8 1)" text-anchor="middle">40</text>
<text transform="translate(105.5 361.4) scale(0.8 1)" text-anchor="end">40</text>
<text transform="translate(311.4 554.7) scale(0.8 1)" text-anchor="middle">50</text>
<text transform="translate(105.5 345.3) scale(0.8 1)" text-anchor="end">50</text>
<text transform="translate(327.5 554.7) scale(0.8 1)" text-anchor="middle">60</text>
<text transform="translate(105.5 329.2) scale(0.8 1)" text-anchor="end">60</text>
<text transform="translate(343.6 554.7) scale(0.8 1)" text-anchor="middle">70</text>
<text transform="translate(105.5 313.1) scale(0.8 1)" text-anchor="end">70</text>
</g>
<g font-family="Liberation Sans, Arial, sans-serif" font-size="8.6" fill="#151515">
<text x="230.8" y="564.8" text-anchor="middle">X (mm)</text>
<text transform="translate(92.4 423.2) rotate(-90)" text-anchor="middle">Y (mm))</text>
</g>
<g clip-path="url(#w4)">
<rect x="525.5" y="309.2" width="240.4" height="239.1" fill="#990000"/>
<path d="M539.7 472.7C541.1 472.2 539.8 472.6 540.4 471.3C541.0 470.0 542.2 467.2 543.2 465.0C544.2 462.8 545.7 460.6 546.7 458.0C547.8 455.4 548.8 452.5 549.5 449.7C550.2 446.9 550.4 444.1 550.9 441.3C551.4 438.5 551.9 435.8 552.3 432.8C552.6 429.8 552.5 426.4 553.0 423.1C553.5 419.9 553.9 416.4 555.0 413.3C556.1 410.2 558.0 407.0 559.9 404.3C561.8 401.6 564.0 399.4 566.2 397.3C568.4 395.2 570.6 393.5 573.1 391.8C575.6 390.1 579.0 388.5 581.5 386.9C584.0 385.3 586.1 383.5 588.4 382.0C590.7 380.5 593.1 378.8 595.4 377.9C597.7 377.0 599.9 376.8 602.3 376.5C604.7 376.2 607.5 376.1 610.0 376.0C612.5 375.9 614.7 376.3 617.0 376.1C619.3 375.9 621.9 375.6 623.9 374.7C625.9 373.8 627.9 372.5 628.8 370.6C629.7 368.8 629.5 366.4 629.5 363.6C629.5 360.8 628.7 356.7 628.8 353.9C628.9 351.1 629.3 348.9 630.2 346.9C631.1 344.9 632.6 343.1 634.3 342.0C636.0 340.9 638.1 340.2 640.6 340.0C643.1 339.8 646.2 340.0 649.0 340.7C651.8 341.4 654.5 342.8 657.3 344.1C660.1 345.4 662.9 347.1 665.7 348.3C668.5 349.5 671.2 350.4 674.0 351.1C676.8 351.8 679.6 352.2 682.3 352.5C685.0 352.8 688.2 352.7 690.0 352.7C691.8 352.7 691.3 352.4 693.3 352.5C695.2 352.6 698.9 352.7 701.7 353.2C704.5 353.7 707.2 354.4 710.0 355.3C712.8 356.2 715.6 357.4 718.4 358.7C721.2 360.0 724.2 361.7 726.7 362.9C729.2 364.1 731.6 364.9 733.7 365.7C735.8 366.5 738.1 366.9 739.5 367.6C740.9 368.4 742.2 369.2 742.3 370.2C742.4 371.2 741.2 372.6 740.0 373.8C738.8 375.0 736.7 376.2 735.1 377.5C733.5 378.8 731.7 380.1 730.2 381.7C728.7 383.3 727.3 385.2 726.0 387.3C724.7 389.4 723.7 392.0 722.6 394.2C721.5 396.4 720.8 398.4 719.5 400.5C718.2 402.6 716.4 404.8 714.9 407.0C713.4 409.2 711.9 411.6 710.7 413.9C709.6 416.2 708.6 418.6 708.0 420.9C707.4 423.2 707.2 425.5 707.0 427.8C706.8 430.1 707.2 432.5 706.6 434.8C706.0 437.1 704.6 439.5 703.1 441.7C701.6 443.9 699.6 445.9 697.5 448.0C695.4 450.1 692.7 452.4 690.6 454.3C688.5 456.2 686.1 458.1 685.0 459.3C683.9 460.5 685.1 460.1 683.7 461.7C682.3 463.3 678.9 466.4 676.8 468.7C674.7 471.0 672.7 473.4 671.2 475.6C669.7 477.8 669.5 479.7 668.0 482.0C666.5 484.3 664.2 486.9 662.3 489.4C660.4 491.9 658.6 494.7 656.8 497.1C654.9 499.5 653.1 502.2 651.2 504.0C649.4 505.8 647.8 507.1 645.7 507.8C643.6 508.5 641.3 508.4 638.7 508.2C636.1 508.0 633.1 507.4 630.3 506.8C627.5 506.2 624.8 505.4 622.0 504.7C619.2 504.0 616.5 503.5 613.7 502.7C610.9 501.9 608.1 500.8 605.3 499.9C602.5 499.0 599.8 498.1 597.0 497.3C594.2 496.5 591.2 495.8 588.4 494.9C585.6 494.0 582.6 492.9 580.1 492.1C577.6 491.3 575.4 490.5 573.1 490.0C570.8 489.5 568.5 489.3 566.2 489.3C563.9 489.3 561.3 489.5 559.2 490.0C557.1 490.5 555.3 491.4 553.7 492.1C552.1 492.8 551.8 493.4 549.5 494.2C547.2 495.0 543.2 498.5 540.0 497.0C536.8 495.5 531.3 488.8 530.0 485.0C528.7 481.2 530.4 476.1 532.0 474.0C533.6 471.9 538.3 473.1 539.7 472.7Z" fill="#ff2200"/>
<path d="M541.8 476.1C543.3 475.4 543.0 473.9 543.9 472.0C544.8 470.1 546.2 467.3 547.4 465.0C548.6 462.7 549.8 460.6 550.9 458.0C552.0 455.4 553.0 452.5 553.7 449.7C554.4 446.9 554.5 444.1 555.0 441.3C555.5 438.5 556.0 435.3 556.4 433.0C556.8 430.7 556.8 429.9 557.1 427.3C557.5 424.7 557.7 420.5 558.5 417.5C559.3 414.5 560.6 411.8 562.0 409.2C563.4 406.6 565.0 404.2 566.9 402.2C568.8 400.2 570.9 398.8 573.1 397.3C575.3 395.8 577.8 394.5 580.1 393.2C582.4 391.9 584.7 390.6 587.0 389.7C589.3 388.8 591.5 388.0 594.0 387.6C596.5 387.2 599.6 387.1 602.3 387.6C605.0 388.1 607.5 389.6 610.0 390.5C612.5 391.4 614.7 392.2 617.0 392.8C619.3 393.4 621.6 393.5 623.9 394.2C626.2 394.9 628.6 396.1 630.9 397.0C633.2 397.9 635.5 398.9 637.8 399.5C640.1 400.1 642.6 400.7 644.8 400.5C647.0 400.3 649.1 399.4 651.0 398.4C652.9 397.3 654.7 395.8 655.9 394.2C657.1 392.6 657.6 390.5 658.0 388.7C658.4 386.9 658.4 385.0 658.0 383.1C657.6 381.2 656.9 379.1 655.9 377.5C654.9 375.9 653.3 374.6 651.7 373.3C650.1 372.0 648.2 371.0 646.2 369.9C644.2 368.8 641.6 367.7 639.9 366.4C638.1 365.1 636.7 363.8 635.7 362.2C634.7 360.6 633.9 358.5 633.7 356.7C633.5 354.9 634.0 352.7 634.3 351.1C634.6 349.5 634.7 347.9 635.7 346.9C636.8 345.8 638.6 345.1 640.6 344.8C642.6 344.5 645.3 344.3 647.6 344.8C649.9 345.3 652.2 346.4 654.5 347.6C656.8 348.8 659.2 350.5 661.5 351.8C663.8 353.1 665.9 354.4 668.4 355.3C670.9 356.2 674.0 356.6 676.8 357.0C679.6 357.4 682.5 357.9 685.0 358.0C687.5 358.1 689.7 357.8 692.0 357.8C694.3 357.8 696.6 357.6 698.9 358.0C701.2 358.4 703.6 359.2 705.9 360.1C708.2 361.0 710.7 362.3 712.8 363.6C714.9 364.9 716.9 366.2 718.4 367.8C719.9 369.4 721.2 371.5 721.9 373.3C722.6 375.1 722.8 376.8 722.6 378.9C722.4 381.0 721.7 383.6 720.9 385.9C720.1 388.2 718.8 390.4 717.7 392.8C716.6 395.2 715.7 397.6 714.5 400.0C713.3 402.4 711.9 404.7 710.7 407.0C709.5 409.3 708.2 411.6 707.3 413.9C706.4 416.2 705.7 418.6 705.2 420.9C704.7 423.2 704.9 425.5 704.5 427.8C704.1 430.1 703.9 432.6 703.1 434.8C702.3 437.0 701.1 439.0 699.6 441.0C698.1 443.0 696.0 444.7 694.0 446.6C692.0 448.5 689.8 450.3 687.8 452.2C685.8 454.1 684.4 456.1 682.3 458.2C680.2 460.2 677.6 462.3 675.4 464.5C673.2 466.7 670.9 469.0 669.1 471.4C667.3 473.8 666.0 476.6 664.4 479.0C662.8 481.4 661.2 483.6 659.6 486.0C658.0 488.4 656.3 491.2 654.7 493.6C653.1 496.0 651.4 498.6 649.8 500.3C648.2 502.0 646.9 503.3 645.0 504.0C643.1 504.7 640.9 504.7 638.7 504.7C636.5 504.7 634.2 504.4 631.7 504.0C629.2 503.6 626.2 502.9 623.4 502.2C620.6 501.5 617.8 500.7 615.0 499.9C612.2 499.1 609.5 498.3 606.7 497.5C603.9 496.7 601.3 495.7 598.3 494.9C595.2 494.1 591.4 493.6 588.4 492.8C585.4 492.0 582.6 490.8 580.1 490.0C577.6 489.2 575.4 488.4 573.1 488.0C570.8 487.6 568.4 487.3 566.2 487.3C564.0 487.3 561.9 487.6 559.9 488.0C557.9 488.4 556.0 489.3 554.3 490.0C552.6 490.7 551.5 491.4 549.5 492.1C547.5 492.8 544.8 495.4 542.0 494.0C539.2 492.6 534.2 487.0 533.0 484.0C531.8 481.0 533.5 477.3 535.0 476.0C536.5 474.7 540.3 476.8 541.8 476.1Z" fill="#ff4400"/>
<path d="M544.6 479.0C545.8 477.8 546.4 474.9 547.4 472.7C548.4 470.5 549.8 468.1 550.9 465.7C552.0 463.2 553.2 460.7 554.3 458.0C555.4 455.3 556.6 452.5 557.5 449.7C558.4 446.9 559.2 443.8 559.8 441.0C560.4 438.2 560.6 435.3 561.0 433.0C561.4 430.7 561.9 429.0 562.3 427.0C562.7 425.0 562.8 423.4 563.4 421.0C564.0 418.6 565.1 415.2 566.2 412.7C567.4 410.1 568.7 407.8 570.3 405.7C571.9 403.6 573.8 401.6 575.9 400.1C578.0 398.6 580.6 397.5 582.9 396.7C585.2 395.9 587.2 395.4 589.8 395.3C592.3 395.2 595.7 396.2 598.2 396.4C600.8 396.6 603.1 396.5 605.1 396.5C607.1 396.5 608.0 396.2 610.0 396.3C612.0 396.4 614.5 396.7 617.0 397.3C619.5 397.9 622.5 398.8 625.3 399.8C628.1 400.8 630.9 402.4 633.7 403.3C636.5 404.2 639.2 405.2 642.0 405.4C644.8 405.6 647.8 405.3 650.3 404.7C652.8 404.1 655.0 403.1 657.3 401.9C659.6 400.7 662.3 399.2 664.3 397.7C666.3 396.2 667.8 394.5 669.1 392.8C670.4 391.1 671.3 389.4 671.9 387.3C672.5 385.2 672.4 382.6 672.6 380.3C672.8 378.0 672.7 375.4 673.3 373.3C673.9 371.2 674.6 369.3 676.1 367.8C677.6 366.3 680.5 365.2 682.3 364.3C684.1 363.4 685.4 363.0 687.0 362.5C688.6 362.0 690.0 361.6 692.0 361.5C694.0 361.4 696.6 361.4 698.9 361.9C701.2 362.4 703.8 363.2 705.9 364.3C708.0 365.4 709.9 366.9 711.4 368.5C712.9 370.1 714.2 372.0 714.9 374.0C715.6 376.0 715.8 378.1 715.6 380.3C715.4 382.5 714.3 385.0 713.5 387.3C712.7 389.6 711.5 392.1 710.7 394.2C709.9 396.3 709.3 397.9 708.5 400.0C707.7 402.1 706.7 404.7 705.9 407.0C705.1 409.3 704.4 411.6 703.8 413.9C703.2 416.2 702.8 418.6 702.4 420.9C702.0 423.2 702.1 425.6 701.7 427.8C701.4 430.0 701.1 432.1 700.3 434.1C699.5 436.1 698.3 438.0 696.8 439.7C695.3 441.4 693.3 442.9 691.3 444.5C689.3 446.1 686.6 447.8 685.0 449.4C683.4 451.0 683.5 452.2 681.7 454.0C679.9 455.8 676.5 458.1 674.0 460.3C671.5 462.5 669.2 464.5 667.0 467.3C664.8 470.1 662.7 474.1 661.0 476.9C659.3 479.7 658.2 481.6 656.8 483.9C655.4 486.2 654.0 488.6 652.6 490.8C651.2 493.0 649.8 495.5 648.4 497.1C647.0 498.7 645.9 499.8 644.3 500.6C642.7 501.4 640.8 501.6 638.7 501.7C636.6 501.8 634.2 501.6 631.7 501.3C629.2 501.0 626.2 500.2 623.4 499.6C620.6 499.0 617.8 498.3 615.0 497.5C612.2 496.7 609.5 495.6 606.7 495.0C603.9 494.4 601.0 494.5 598.2 493.9C595.4 493.3 592.6 492.1 589.8 491.2C587.0 490.3 584.0 489.2 581.5 488.4C579.0 487.5 576.8 486.6 574.5 486.1C572.2 485.6 569.7 485.4 567.6 485.2C565.5 485.0 563.9 485.0 562.0 485.2C560.1 485.4 558.2 486.1 556.4 486.6C554.5 487.1 552.8 487.8 550.9 488.0C549.0 488.2 547.4 488.2 545.3 488.0C543.1 487.8 538.9 488.3 538.0 487.0C537.1 485.7 538.9 481.3 540.0 480.0C541.1 478.7 543.4 480.2 544.6 479.0Z" fill="#ff7711"/>
<path d="M637.8 352.5C638.1 351.2 638.7 349.4 639.9 348.3C641.1 347.2 642.9 346.4 644.8 346.2C646.6 346.0 649.0 346.1 651.0 346.9C653.0 347.7 655.1 349.5 656.6 351.1C658.1 352.7 659.2 355.0 659.8 356.7C660.4 358.4 660.6 360.2 660.1 361.5C659.6 362.8 658.1 364.1 656.6 364.7C655.1 365.3 652.9 365.5 651.0 365.3C649.1 365.1 647.2 364.5 645.5 363.6C643.8 362.7 641.9 361.4 640.6 360.1C639.3 358.8 638.3 357.3 637.8 356.0C637.3 354.7 637.4 353.8 637.8 352.5Z" fill="#ff7711"/>
<path d="M651.5 353.8C651.5 354.8 651.0 356.2 650.3 356.9C649.6 357.6 648.3 358.2 647.3 358.2C646.3 358.2 645.0 357.6 644.3 356.9C643.6 356.2 643.1 354.8 643.1 353.8C643.1 352.8 643.6 351.4 644.3 350.7C645.0 350.0 646.3 349.4 647.3 349.4C648.3 349.4 649.6 350.0 650.3 350.7C651.0 351.4 651.5 352.8 651.5 353.8Z" fill="#ffaa00"/>
<path d="M547.4 481.7C547.4 480.3 548.0 479.1 548.8 477.5C549.6 475.9 551.0 474.1 552.3 472.0C553.6 469.9 555.1 467.3 556.4 465.0C557.7 462.7 558.8 460.6 559.9 458.0C561.0 455.4 561.9 452.5 562.7 449.7C563.5 446.9 564.0 444.1 564.5 441.3C565.0 438.5 565.4 435.6 566.0 433.0C566.6 430.4 567.2 428.9 568.0 426.0C568.8 423.1 569.9 418.3 571.0 415.4C572.1 412.5 573.1 410.5 574.5 408.5C575.9 406.5 577.5 404.8 579.4 403.6C581.3 402.4 583.5 401.6 585.7 401.5C587.9 401.4 590.5 401.8 592.6 402.9C594.7 403.9 596.6 405.8 598.2 407.8C599.8 409.8 601.0 412.4 602.3 414.7C603.6 417.0 604.5 419.6 605.8 421.7C607.1 423.8 608.4 426.2 610.0 427.5C611.6 428.8 613.5 429.5 615.6 429.4C617.7 429.3 620.0 427.9 622.5 426.9C625.0 425.9 628.1 424.5 630.9 423.4C633.7 422.2 636.4 421.1 639.2 420.0C642.0 418.9 645.1 417.7 647.6 416.5C650.1 415.3 652.2 414.1 654.5 413.0C656.8 411.9 659.4 411.4 661.5 410.2C663.6 409.0 664.9 407.1 667.0 406.0C669.1 404.9 671.7 404.1 674.0 403.3C676.3 402.5 679.1 402.2 681.0 401.2C682.9 400.1 684.2 398.6 685.1 397.0C686.0 395.4 686.3 393.5 686.5 391.4C686.7 389.3 686.3 386.8 686.2 384.5C686.1 382.2 685.6 379.8 685.8 377.5C686.0 375.2 686.4 372.7 687.5 371.0C688.6 369.3 690.8 367.8 692.7 367.1C694.6 366.5 696.9 366.7 698.9 367.1C700.9 367.5 703.0 368.4 704.5 369.5C706.0 370.6 707.3 372.2 708.0 374.0C708.7 375.8 708.9 378.2 708.7 380.3C708.5 382.4 707.5 384.8 706.6 386.6C705.7 388.5 704.2 389.8 703.1 391.4C702.0 393.0 700.9 394.5 700.3 396.3C699.6 398.1 699.3 400.2 699.2 402.0C699.1 403.8 699.7 405.0 699.6 407.0C699.5 409.0 699.1 411.6 698.9 413.9C698.7 416.2 698.6 418.6 698.6 420.9C698.6 423.2 698.8 425.7 698.6 427.8C698.4 429.9 698.1 431.6 697.2 433.4C696.3 435.1 694.8 436.9 693.3 438.3C691.8 439.7 689.9 440.7 688.5 441.7C687.1 442.7 686.0 443.1 685.0 444.4C684.0 445.6 684.1 447.6 682.3 449.2C680.5 450.8 676.8 452.0 674.0 454.0C671.2 456.0 668.1 458.7 665.7 461.0C663.3 463.3 661.1 465.8 659.5 468.0C657.9 470.2 657.0 472.2 656.0 474.5C655.0 476.8 654.4 479.6 653.5 482.0C652.6 484.4 651.7 487.1 650.5 489.0C649.3 490.9 647.6 492.3 646.3 493.5C645.0 494.7 644.3 495.6 642.9 496.4C641.5 497.2 639.9 498.1 638.0 498.5C636.1 498.9 634.1 498.7 631.7 498.5C629.3 498.3 626.2 497.7 623.4 497.1C620.6 496.5 617.8 495.8 615.0 495.0C612.2 494.2 609.5 493.2 606.7 492.5C603.9 491.8 601.1 491.6 598.3 491.0C595.5 490.4 592.6 489.7 589.8 489.0C587.0 488.3 584.0 487.4 581.5 486.6C579.0 485.8 576.7 484.8 574.5 484.2C572.3 483.6 570.1 483.1 568.3 482.8C566.4 482.5 564.9 482.1 563.4 482.4C561.9 482.7 560.8 483.8 559.2 484.5C557.6 485.2 555.4 486.4 553.7 486.6C552.0 486.8 549.8 486.7 548.8 485.9C547.8 485.1 547.4 483.1 547.4 481.7Z" fill="#ffaa00"/>
<path d="M562.0 470.6C562.1 469.0 562.8 467.1 563.4 465.0C564.0 462.9 565.2 460.6 565.9 458.0C566.6 455.4 567.3 452.5 567.8 449.7C568.3 446.9 568.6 443.9 568.9 441.3C569.1 438.7 568.9 436.3 569.3 434.0C569.6 431.7 570.2 429.6 571.0 427.3C571.8 425.0 572.6 422.4 573.8 420.3C575.0 418.2 576.5 416.1 578.0 414.7C579.5 413.3 581.2 412.5 582.9 412.2C584.6 411.9 586.5 412.0 588.4 412.7C590.2 413.4 592.4 414.4 594.0 416.1C595.6 417.8 596.8 421.0 598.2 423.1C599.6 425.2 600.9 427.2 602.3 428.7C603.7 430.2 605.2 431.1 606.5 432.1C607.8 433.1 608.2 433.4 610.0 434.5C611.8 435.6 614.5 437.6 617.0 438.7C619.5 439.8 622.5 440.8 625.3 440.8C628.1 440.8 630.9 439.9 633.7 438.7C636.5 437.5 639.2 435.4 642.0 433.9C644.8 432.4 647.8 431.1 650.3 429.7C652.8 428.3 655.3 427.1 657.3 425.5C659.3 423.9 660.7 421.7 662.2 420.0C663.7 418.3 665.0 416.8 666.5 415.5C668.0 414.2 669.4 413.1 671.0 412.0C672.6 410.9 674.0 410.0 676.0 409.0C678.0 408.0 680.8 406.4 683.0 406.0C685.2 405.6 687.8 405.6 689.5 406.3C691.2 407.0 692.3 408.0 693.3 410.0C694.3 412.0 695.0 415.6 695.4 418.1C695.8 420.6 696.0 422.8 695.9 425.0C695.8 427.2 695.5 429.4 694.7 431.3C693.9 433.2 692.6 434.8 691.3 436.2C690.0 437.6 688.6 438.5 687.1 439.7C685.6 440.9 684.5 442.6 682.3 443.6C680.1 444.7 676.8 445.5 674.0 446.0C671.2 446.5 668.2 446.2 665.7 446.8C663.2 447.4 660.9 448.3 658.7 449.9C656.5 451.4 654.1 453.8 652.4 456.1C650.7 458.4 649.3 461.2 648.3 463.8C647.3 466.4 646.9 469.0 646.2 471.4C645.5 473.8 645.1 476.2 644.3 478.3C643.5 480.4 642.7 482.3 641.5 483.9C640.3 485.5 638.9 486.9 637.3 488.0C635.7 489.1 634.0 490.2 631.7 490.8C629.4 491.4 626.2 491.5 623.4 491.5C620.6 491.5 617.8 491.1 615.0 490.8C612.2 490.6 609.5 490.5 606.7 490.0C603.9 489.5 601.1 488.7 598.3 488.0C595.5 487.3 591.9 486.5 590.0 486.0C588.1 485.5 588.9 485.8 587.0 485.2C585.1 484.6 581.2 483.2 578.7 482.4C576.2 481.6 573.8 481.0 571.7 480.3C569.6 479.6 567.7 479.1 566.2 478.2C564.7 477.3 563.4 476.0 562.7 474.7C562.0 473.4 561.9 472.2 562.0 470.6Z" fill="#eeff11"/>
<path d="M697.8 374.3L700.8 377.5L697.8 380.7L694.8 377.5Z" fill="#eeff11"/>
<path d="M571.0 467.8C570.8 465.6 571.1 463.1 571.7 460.8C572.3 458.5 573.6 456.2 574.5 453.9C575.4 451.6 576.7 449.2 577.3 446.9C577.9 444.6 578.0 441.8 578.2 440.0C578.4 438.2 578.1 437.2 578.4 436.0C578.7 434.8 579.2 433.8 580.1 432.8C581.0 431.8 582.2 430.5 583.6 430.0C585.0 429.5 586.7 429.5 588.4 430.0C590.1 430.5 592.1 431.8 594.0 432.8C595.9 433.9 597.8 435.2 599.6 436.3C601.5 437.4 603.4 437.9 605.1 439.1C606.8 440.3 608.2 442.2 610.0 443.5C611.8 444.8 613.5 445.4 615.6 447.0C617.7 448.6 620.2 450.8 622.5 453.0C624.8 455.2 627.5 457.9 629.5 460.3C631.5 462.7 633.4 465.4 634.3 467.3C635.2 469.2 635.0 470.6 634.8 472.0C634.6 473.4 634.1 474.1 633.1 475.5C632.1 476.9 630.9 479.0 629.0 480.4C627.1 481.8 624.5 483.1 622.0 483.9C619.5 484.7 616.5 485.1 613.7 485.3C610.9 485.5 608.1 485.4 605.3 485.3C602.5 485.2 598.9 484.9 597.0 484.6C595.1 484.4 595.9 484.5 594.0 483.8C592.1 483.1 588.2 481.4 585.7 480.3C583.2 479.2 580.8 478.6 578.7 477.5C576.6 476.4 574.4 475.6 573.1 474.0C571.8 472.4 571.2 470.0 571.0 467.8Z" fill="#bbff44"/>
<path d="M684.0 410.0C682.4 409.7 680.6 410.9 679.0 412.0C677.4 413.1 675.8 415.0 674.5 416.5C673.2 418.0 671.9 419.4 671.0 421.0C670.1 422.6 669.2 424.3 669.1 426.2C669.0 428.1 669.5 430.8 670.5 432.5C671.5 434.2 673.4 435.8 675.4 436.7C677.4 437.6 680.3 438.1 682.3 438.0C684.2 437.9 685.7 436.9 687.1 435.8C688.5 434.7 689.8 433.0 690.6 431.3C691.4 429.6 691.9 427.7 692.0 425.7C692.1 423.7 691.9 421.5 691.3 419.5C690.7 417.5 689.7 415.5 688.5 413.9C687.3 412.3 685.6 410.3 684.0 410.0Z" fill="#bbff44"/>
<path d="M610.0 452.0C608.1 450.3 605.9 448.3 603.7 447.5C601.5 446.7 599.0 446.7 596.8 447.0C594.6 447.3 592.3 448.2 590.5 449.5C588.7 450.8 587.5 452.8 586.0 455.0C584.5 457.2 582.5 460.4 581.5 463.0C580.5 465.6 579.6 468.5 579.8 470.6C580.0 472.7 581.5 474.2 582.9 475.8C584.3 477.4 586.3 478.9 588.4 480.0C590.5 481.1 593.2 481.9 595.6 482.2C598.0 482.5 600.2 482.2 602.5 481.8C604.8 481.4 607.3 480.6 609.5 479.7C611.7 478.8 614.0 477.6 615.7 476.2C617.4 474.8 619.0 472.9 619.9 471.3C620.8 469.7 621.2 468.1 621.2 466.5C621.2 464.9 620.8 463.5 619.7 462.0C618.7 460.5 616.5 459.2 614.9 457.5C613.3 455.8 611.9 453.7 610.0 452.0Z" fill="#88ff77"/>
<path d="M688.2 426.9C688.2 428.0 687.8 429.4 687.1 430.3C686.5 431.2 685.4 432.1 684.3 432.4C683.3 432.8 681.9 432.8 680.9 432.4C679.8 432.1 678.7 431.2 678.1 430.3C677.4 429.4 677.0 428.0 677.0 426.9C677.0 425.8 677.4 424.4 678.1 423.5C678.7 422.6 679.8 421.7 680.9 421.4C681.9 421.0 683.3 421.0 684.3 421.4C685.4 421.7 686.5 422.6 687.1 423.5C687.8 424.4 688.2 425.8 688.2 426.9Z" fill="#88ff77"/>
<path d="M608.0 462.0C607.0 460.9 605.6 459.7 603.7 459.4C601.8 459.1 598.9 459.4 596.8 460.1C594.7 460.8 592.7 462.2 591.2 463.6C589.7 465.0 588.4 466.8 587.7 468.5C587.0 470.2 586.6 472.3 587.0 474.0C587.4 475.7 588.4 477.8 589.8 478.9C591.2 480.0 593.7 480.4 595.6 480.4C597.5 480.4 599.4 479.8 601.1 479.0C602.8 478.2 604.7 476.9 606.0 475.5C607.3 474.1 608.2 472.3 608.8 470.7C609.4 469.1 609.9 467.4 609.8 466.0C609.7 464.6 609.0 463.1 608.0 462.0Z" fill="#55ffaa"/>
<path d="M645.5 388.3L646.5 389.3L645.5 390.3L644.5 389.3Z" fill="#660000"/>
<path d="M775.0 438.6C772.6 429.2 764.4 438.5 760.9 438.6C757.4 438.7 756.5 438.6 754.0 439.0C751.5 439.4 748.3 440.1 745.6 441.1C742.9 442.2 740.4 443.6 738.0 445.3C735.6 447.1 732.8 449.3 731.0 451.6C729.2 453.9 727.9 456.5 727.2 459.2C726.5 461.9 726.5 464.8 726.8 467.6C727.1 470.4 727.8 473.3 728.9 475.9C730.0 478.4 731.6 480.8 733.1 482.9C734.6 485.0 736.5 487.0 738.0 488.4C739.5 489.8 740.1 490.1 742.1 491.2C744.1 492.3 744.5 494.4 750.0 495.0C755.5 495.6 770.8 504.4 775.0 495.0C779.2 485.6 777.4 448.0 775.0 438.6Z" fill="#ff2200"/>
<path d="M775.0 441.8C772.6 433.4 764.4 441.7 760.9 441.8C757.4 441.9 756.4 441.8 754.0 442.2C751.6 442.6 748.8 443.2 746.3 444.2C743.8 445.2 741.4 446.5 739.3 448.1C737.2 449.7 735.2 451.6 733.8 453.7C732.3 455.8 731.2 458.2 730.6 460.6C730.0 463.0 730.0 465.8 730.3 468.3C730.6 470.9 731.3 473.6 732.4 475.9C733.5 478.2 735.1 480.3 736.6 482.2C738.1 484.1 740.0 485.9 741.4 487.0C742.8 488.1 743.1 488.3 744.9 489.1C746.7 489.9 747.0 491.5 752.0 492.0C757.0 492.5 771.2 500.4 775.0 492.0C778.8 483.6 777.4 450.2 775.0 441.8Z" fill="#ff4400"/>
<path d="M775.0 444.6C772.6 437.0 764.3 444.5 760.9 444.6C757.5 444.7 756.9 444.6 754.7 445.0C752.5 445.4 749.9 446.1 747.7 447.0C745.5 447.9 743.2 449.2 741.4 450.6C739.5 452.1 737.8 453.8 736.6 455.7C735.4 457.6 734.7 459.8 734.2 462.0C733.7 464.2 733.5 466.7 733.8 469.0C734.1 471.3 734.9 473.8 735.9 475.9C736.9 478.0 738.4 479.9 739.8 481.5C741.2 483.1 743.1 484.8 744.2 485.7C745.4 486.6 745.2 486.3 746.7 487.0C748.2 487.7 748.3 489.5 753.0 490.0C757.7 490.5 771.3 497.6 775.0 490.0C778.7 482.4 777.4 452.2 775.0 444.6Z" fill="#ff7711"/>
<path d="M775.0 447.4C772.6 440.8 764.2 447.3 760.9 447.4C757.6 447.5 757.3 447.4 755.3 447.8C753.3 448.2 751.1 448.9 749.1 449.8C747.1 450.7 745.1 452.1 743.5 453.4C741.9 454.7 740.3 456.1 739.3 457.8C738.3 459.5 737.6 461.4 737.3 463.4C737.0 465.4 737.0 467.6 737.3 469.7C737.6 471.8 738.0 474.0 738.9 475.9C739.8 477.8 741.2 479.4 742.5 480.8C743.8 482.2 745.0 483.0 746.7 484.0C748.5 485.0 748.3 486.5 753.0 487.0C757.7 487.5 771.3 493.6 775.0 487.0C778.7 480.4 777.4 454.0 775.0 447.4Z" fill="#ffaa00"/>
<path d="M775.0 450.2C772.6 444.4 764.1 450.1 760.9 450.2C757.7 450.3 757.7 450.2 756.0 450.6C754.3 451.0 752.2 451.6 750.5 452.5C748.8 453.4 747.0 454.8 745.6 456.2C744.2 457.6 743.0 459.1 742.1 460.6C741.2 462.2 740.7 463.8 740.5 465.5C740.3 467.2 740.3 469.1 740.7 471.0C741.1 472.9 741.9 475.0 742.8 476.6C743.7 478.2 745.4 479.9 746.3 480.8C747.2 481.7 747.1 481.5 748.4 482.2C749.7 482.9 749.6 484.5 754.0 485.0C758.4 485.5 771.5 490.8 775.0 485.0C778.5 479.2 777.4 456.0 775.0 450.2Z" fill="#eeff11"/>
<path d="M775.0 453.0C772.6 448.5 763.9 452.9 760.9 453.0C757.9 453.1 758.2 453.0 756.7 453.4C755.2 453.8 753.4 454.4 751.9 455.3C750.4 456.2 748.8 457.5 747.7 458.9C746.6 460.2 745.8 461.8 745.3 463.4C744.8 465.0 744.7 466.7 744.9 468.3C745.1 469.9 745.6 471.7 746.3 473.1C747.0 474.5 748.2 475.8 749.1 476.6C750.0 477.4 750.4 477.4 751.5 478.0C752.6 478.6 752.1 479.7 756.0 480.0C759.9 480.3 771.8 484.5 775.0 480.0C778.2 475.5 777.4 457.5 775.0 453.0Z" fill="#bbff44"/>
<path d="M775.0 455.0C772.6 452.0 763.9 454.9 760.9 455.0C757.9 455.1 758.1 455.2 756.7 455.7C755.3 456.2 753.8 456.9 752.6 457.8C751.4 458.7 750.2 460.0 749.5 461.3C748.8 462.6 748.4 464.1 748.4 465.5C748.4 466.9 748.9 468.7 749.5 469.7C750.1 470.7 750.8 471.2 751.9 471.7C753.0 472.1 754.6 472.2 756.0 472.4C757.4 472.6 756.8 472.9 760.0 473.0C763.2 473.1 772.5 476.0 775.0 473.0C777.5 470.0 777.4 458.0 775.0 455.0Z" fill="#88ff77"/>
<path d="M758.9 460.3C758.9 460.9 758.6 461.7 758.1 462.1C757.7 462.6 756.9 462.9 756.3 462.9C755.7 462.9 754.9 462.6 754.5 462.1C754.0 461.7 753.7 460.9 753.7 460.3C753.7 459.7 754.0 458.9 754.5 458.5C754.9 458.0 755.7 457.7 756.3 457.7C756.9 457.7 757.7 458.0 758.1 458.5C758.6 458.9 758.9 459.7 758.9 460.3Z" fill="#55ffaa"/>
</g>
<rect x="525.5" y="309.2" width="240.4" height="239.1" fill="none" stroke="#3a3a3a" stroke-width="1.25"/>
<path d="M533.33 548.3v3.1M525.5 540.67h-3.1M541.34 548.3v1.3M525.5 532.66h-1.3M549.34 548.3v3.1M525.5 524.66h-3.1M557.35 548.3v1.3M525.5 516.65h-1.3M565.35 548.3v3.1M525.5 508.65h-3.1M573.36 548.3v1.3M525.5 500.65h-1.3M581.36 548.3v3.1M525.5 492.64h-3.1M589.37 548.3v1.3M525.5 484.63h-1.3M597.37 548.3v3.1M525.5 476.63h-3.1M605.38 548.3v1.3M525.5 468.62h-1.3M613.38 548.3v3.1M525.5 460.62h-3.1M621.38 548.3v1.3M525.5 452.62h-1.3M629.39 548.3v3.1M525.5 444.61h-3.1M637.39 548.3v1.3M525.5 436.61h-1.3M645.40 548.3v3.1M525.5 428.60h-3.1M653.40 548.3v1.3M525.5 420.60h-1.3M661.41 548.3v3.1M525.5 412.59h-3.1M669.41 548.3v1.3M525.5 404.59h-1.3M677.42 548.3v3.1M525.5 396.58h-3.1M685.42 548.3v1.3M525.5 388.58h-1.3M693.43 548.3v3.1M525.5 380.57h-3.1M701.43 548.3v1.3M525.5 372.57h-1.3M709.44 548.3v3.1M525.5 364.56h-3.1M717.44 548.3v1.3M525.5 356.56h-1.3M725.45 548.3v3.1M525.5 348.55h-3.1M733.45 548.3v1.3M525.5 340.55h-1.3M741.46 548.3v3.1M525.5 332.54h-3.1M749.46 548.3v1.3M525.5 324.54h-1.3M757.47 548.3v3.1M525.5 316.53h-3.1" stroke="#3a3a3a" stroke-width="0.9" fill="none"/>
<g font-family="Liberation Sans, Arial, sans-serif" font-size="7.0" fill="#151515">
<text transform="translate(533.3 559.7) scale(0.8 1)" text-anchor="middle">-70</text>
<text transform="translate(520.9 543.2) scale(0.8 1)" text-anchor="end">-70</text>
<text transform="translate(549.3 559.7) scale(0.8 1)" text-anchor="middle">-60</text>
<text transform="translate(520.9 527.2) scale(0.8 1)" text-anchor="end">-60</text>
<text transform="translate(565.4 559.7) scale(0.8 1)" text-anchor="middle">-50</text>
<text transform="translate(520.9 511.2) scale(0.8 1)" text-anchor="end">-50</text>
<text transform="translate(581.4 559.7) scale(0.8 1)" text-anchor="middle">-40</text>
<text transform="translate(520.9 495.1) scale(0.8 1)" text-anchor="end">-40</text>
<text transform="translate(597.4 559.7) scale(0.8 1)" text-anchor="middle">-30</text>
<text transform="translate(520.9 479.1) scale(0.8 1)" text-anchor="end">-30</text>
<text transform="translate(613.4 559.7) scale(0.8 1)" text-anchor="middle">-20</text>
<text transform="translate(520.9 463.1) scale(0.8 1)" text-anchor="end">-20</text>
<text transform="translate(629.4 559.7) scale(0.8 1)" text-anchor="middle">-10</text>
<text transform="translate(520.9 447.1) scale(0.8 1)" text-anchor="end">-10</text>
<text transform="translate(645.4 559.7) scale(0.8 1)" text-anchor="middle">0</text>
<text transform="translate(520.9 431.1) scale(0.8 1)" text-anchor="end">0</text>
<text transform="translate(661.4 559.7) scale(0.8 1)" text-anchor="middle">10</text>
<text transform="translate(520.9 415.1) scale(0.8 1)" text-anchor="end">10</text>
<text transform="translate(677.4 559.7) scale(0.8 1)" text-anchor="middle">20</text>
<text transform="translate(520.9 399.1) scale(0.8 1)" text-anchor="end">20</text>
<text transform="translate(693.4 559.7) scale(0.8 1)" text-anchor="middle">30</text>
<text transform="translate(520.9 383.1) scale(0.8 1)" text-anchor="end">30</text>
<text transform="translate(709.4 559.7) scale(0.8 1)" text-anchor="middle">40</text>
<text transform="translate(520.9 367.1) scale(0.8 1)" text-anchor="end">40</text>
<text transform="translate(725.4 559.7) scale(0.8 1)" text-anchor="middle">50</text>
<text transform="translate(520.9 351.1) scale(0.8 1)" text-anchor="end">50</text>
<text transform="translate(741.5 559.7) scale(0.8 1)" text-anchor="middle">60</text>
<text transform="translate(520.9 335.0) scale(0.8 1)" text-anchor="end">60</text>
<text transform="translate(757.5 559.7) scale(0.8 1)" text-anchor="middle">70</text>
<text transform="translate(520.9 319.0) scale(0.8 1)" text-anchor="end">70</text>
</g>
<g font-family="Liberation Sans, Arial, sans-serif" font-size="8.6" fill="#151515">
<text x="645.5" y="570.3" text-anchor="middle">X (mm)</text>
<text transform="translate(508.9 429) rotate(-90)" text-anchor="middle">Y (mm)</text>
</g>
<rect x="385.1" y="334.50" width="23.2" height="12.89" fill="#dd0000"/>
<rect x="385.1" y="347.09" width="23.2" height="12.89" fill="#ff3300"/>
<rect x="385.1" y="359.67" width="23.2" height="12.89" fill="#ff7700"/>
<rect x="385.1" y="372.26" width="23.2" height="12.89" fill="#ffaa00"/>
<rect x="385.1" y="384.85" width="23.2" height="12.89" fill="#ffdd00"/>
<rect x="385.1" y="397.43" width="23.2" height="12.89" fill="#ddff22"/>
<rect x="385.1" y="410.02" width="23.2" height="12.89" fill="#aaff55"/>
<rect x="385.1" y="422.61" width="23.2" height="12.89" fill="#77ff88"/>
<rect x="385.1" y="435.19" width="23.2" height="12.89" fill="#44ffbb"/>
<rect x="385.1" y="447.78" width="23.2" height="12.89" fill="#11ffee"/>
<rect x="385.1" y="460.37" width="23.2" height="12.89" fill="#00bbff"/>
<rect x="385.1" y="472.95" width="23.2" height="12.89" fill="#0088ff"/>
<rect x="385.1" y="485.54" width="23.2" height="12.89" fill="#0044ff"/>
<rect x="385.1" y="498.13" width="23.2" height="12.89" fill="#0000ff"/>
<rect x="385.1" y="510.71" width="23.2" height="12.89" fill="#0000cc"/>
<g font-family="Liberation Sans, Arial, sans-serif" fill="#111">
<text x="379.9" y="315.7" font-size="10.6" textLength="76.6" lengthAdjust="spacingAndGlyphs">SiC_004_FWHM</text>
<text x="416.9" y="338.6" font-size="11.4" textLength="32.7" lengthAdjust="spacingAndGlyphs">60.000</text>
<text x="416.9" y="351.2" font-size="11.4" textLength="32.7" lengthAdjust="spacingAndGlyphs">57.000</text>
<text x="416.9" y="363.8" font-size="11.4" textLength="32.7" lengthAdjust="spacingAndGlyphs">54.000</text>
<text x="416.9" y="376.4" font-size="11.4" textLength="32.7" lengthAdjust="spacingAndGlyphs">51.000</text>
<text x="416.9" y="389.0" font-size="11.4" textLength="32.7" lengthAdjust="spacingAndGlyphs">48.000</text>
<text x="416.9" y="401.5" font-size="11.4" textLength="32.7" lengthAdjust="spacingAndGlyphs">45.000</text>
<text x="416.9" y="414.1" font-size="11.4" textLength="32.7" lengthAdjust="spacingAndGlyphs">42.000</text>
<text x="416.9" y="426.7" font-size="11.4" textLength="32.7" lengthAdjust="spacingAndGlyphs">39.000</text>
<text x="416.9" y="439.3" font-size="11.4" textLength="32.7" lengthAdjust="spacingAndGlyphs">36.000</text>
<text x="416.9" y="451.9" font-size="11.4" textLength="32.7" lengthAdjust="spacingAndGlyphs">33.000</text>
<text x="416.9" y="464.5" font-size="11.4" textLength="32.7" lengthAdjust="spacingAndGlyphs">30.000</text>
<text x="416.9" y="477.1" font-size="11.4" textLength="32.7" lengthAdjust="spacingAndGlyphs">27.000</text>
<text x="416.9" y="489.6" font-size="11.4" textLength="32.7" lengthAdjust="spacingAndGlyphs">24.000</text>
<text x="416.9" y="502.2" font-size="11.4" textLength="32.7" lengthAdjust="spacingAndGlyphs">21.000</text>
<text x="416.9" y="514.8" font-size="11.4" textLength="32.7" lengthAdjust="spacingAndGlyphs">18.000</text>
<text x="416.9" y="527.4" font-size="11.4" textLength="32.7" lengthAdjust="spacingAndGlyphs">15.000</text>
</g>
<rect x="803.2" y="352.80" width="23.7" height="13.26" fill="#ff2200"/>
<rect x="803.2" y="365.76" width="23.7" height="13.26" fill="#ff4400"/>
<rect x="803.2" y="378.73" width="23.7" height="13.26" fill="#ff7711"/>
<rect x="803.2" y="391.69" width="23.7" height="13.26" fill="#ffaa00"/>
<rect x="803.2" y="404.66" width="23.7" height="13.26" fill="#eeff11"/>
<rect x="803.2" y="417.62" width="23.7" height="13.26" fill="#bbff44"/>
<rect x="803.2" y="430.59" width="23.7" height="13.26" fill="#88ff77"/>
<rect x="803.2" y="443.55" width="23.7" height="13.26" fill="#55ffaa"/>
<rect x="803.2" y="456.51" width="23.7" height="13.26" fill="#22ffdd"/>
<rect x="803.2" y="469.48" width="23.7" height="13.26" fill="#00ccff"/>
<rect x="803.2" y="482.44" width="23.7" height="13.26" fill="#0088ff"/>
<rect x="803.2" y="495.41" width="23.7" height="13.26" fill="#0044ff"/>
<rect x="803.2" y="508.37" width="23.7" height="13.26" fill="#0000ff"/>
<rect x="803.2" y="521.34" width="23.7" height="13.26" fill="#0000cc"/>
<g font-family="Liberation Sans, Arial, sans-serif" fill="#111">
<text x="799.5" y="333.1" font-size="10.6" textLength="78.2" lengthAdjust="spacingAndGlyphs">SiC_004_FWCM</text>
<text x="835.5" y="356.9" font-size="11.4" textLength="32.7" lengthAdjust="spacingAndGlyphs">150.00</text>
<text x="835.5" y="369.9" font-size="11.4" textLength="32.7" lengthAdjust="spacingAndGlyphs">145.00</text>
<text x="835.5" y="382.8" font-size="11.4" textLength="32.7" lengthAdjust="spacingAndGlyphs">140.00</text>
<text x="835.5" y="395.8" font-size="11.4" textLength="32.7" lengthAdjust="spacingAndGlyphs">135.00</text>
<text x="835.5" y="408.8" font-size="11.4" textLength="32.7" lengthAdjust="spacingAndGlyphs">130.00</text>
<text x="835.5" y="421.7" font-size="11.4" textLength="32.7" lengthAdjust="spacingAndGlyphs">125.00</text>
<text x="835.5" y="434.7" font-size="11.4" textLength="32.7" lengthAdjust="spacingAndGlyphs">120.00</text>
<text x="835.5" y="447.7" font-size="11.4" textLength="32.7" lengthAdjust="spacingAndGlyphs">115.00</text>
<text x="835.5" y="460.6" font-size="11.4" textLength="32.7" lengthAdjust="spacingAndGlyphs">110.00</text>
<text x="835.5" y="473.6" font-size="11.4" textLength="32.7" lengthAdjust="spacingAndGlyphs">105.00</text>
<text x="835.5" y="486.5" font-size="11.4" textLength="38.7" lengthAdjust="spacingAndGlyphs">100.000</text>
<text x="835.5" y="499.5" font-size="11.4" textLength="32.7" lengthAdjust="spacingAndGlyphs">95.000</text>
<text x="835.5" y="512.5" font-size="11.4" textLength="32.7" lengthAdjust="spacingAndGlyphs">90.000</text>
<text x="835.5" y="525.4" font-size="11.4" textLength="32.7" lengthAdjust="spacingAndGlyphs">85.000</text>
<text x="835.5" y="538.4" font-size="11.4" textLength="32.7" lengthAdjust="spacingAndGlyphs">80.000</text>
</g>
<g font-family="DejaVu Sans, Verdana, sans-serif" fill="#111">
<text x="129.2" y="22.0" font-size="25.4" textLength="207.5" lengthAdjust="spacingAndGlyphs">FWHM / arc sec</text>
<text x="539.9" y="19.5" font-size="25.4" textLength="246.5" lengthAdjust="spacingAndGlyphs">FW0.01M / arc sec</text>
<text x="-0.8" y="135.8" font-size="26" textLength="69" lengthAdjust="spacingAndGlyphs">Good</text>
<text x="-0.7" y="175.9" font-size="26" textLength="77.6" lengthAdjust="spacingAndGlyphs">Wafer</text>
<text x="-0.4" y="399.7" font-size="26" textLength="51" lengthAdjust="spacingAndGlyphs">Bad</text>
<text x="-0.7" y="439.8" font-size="26" textLength="77.6" lengthAdjust="spacingAndGlyphs">Wafer</text>
</g>
</svg>
</body></html>
